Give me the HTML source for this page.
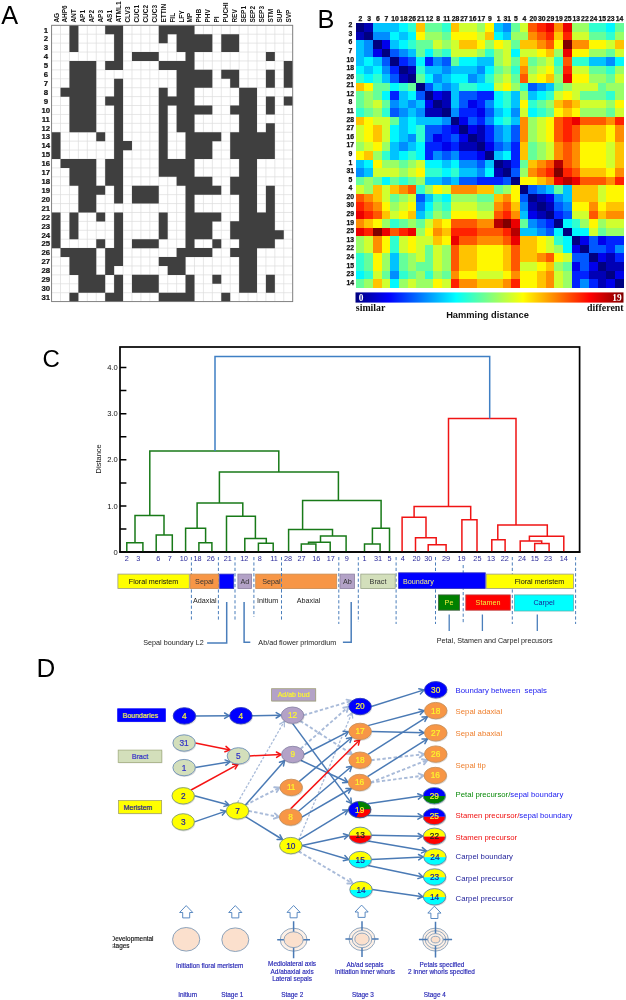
<!DOCTYPE html>
<html><head><meta charset="utf-8"><title>Figure</title>
<style>
html,body{margin:0;padding:0;background:#fff;}
body{width:626px;height:1000px;overflow:hidden;font-family:"Liberation Sans",sans-serif;}
svg{display:block;font-family:"Liberation Sans",sans-serif;filter:blur(0.35px);}
</style></head><body>
<svg width="626" height="1000" viewBox="0 0 626 1000">
<text x="1.2" y="24.3" font-size="25.3" fill="#000">A</text>
<rect x="51.6" y="25.3" width="241.1" height="276.3" fill="#fff"/>
<path d="M51.60 25.3V301.60M60.53 25.3V301.60M69.46 25.3V301.60M78.39 25.3V301.60M87.32 25.3V301.60M96.25 25.3V301.60M105.18 25.3V301.60M114.11 25.3V301.60M123.04 25.3V301.60M131.97 25.3V301.60M140.90 25.3V301.60M149.83 25.3V301.60M158.76 25.3V301.60M167.69 25.3V301.60M176.62 25.3V301.60M185.55 25.3V301.60M194.48 25.3V301.60M203.41 25.3V301.60M212.34 25.3V301.60M221.27 25.3V301.60M230.20 25.3V301.60M239.13 25.3V301.60M248.06 25.3V301.60M256.99 25.3V301.60M265.92 25.3V301.60M274.85 25.3V301.60M283.78 25.3V301.60M292.71 25.3V301.60M51.6 25.30H292.71M51.6 34.21H292.71M51.6 43.13H292.71M51.6 52.04H292.71M51.6 60.95H292.71M51.6 69.86H292.71M51.6 78.78H292.71M51.6 87.69H292.71M51.6 96.60H292.71M51.6 105.52H292.71M51.6 114.43H292.71M51.6 123.34H292.71M51.6 132.26H292.71M51.6 141.17H292.71M51.6 150.08H292.71M51.6 159.00H292.71M51.6 167.91H292.71M51.6 176.82H292.71M51.6 185.73H292.71M51.6 194.65H292.71M51.6 203.56H292.71M51.6 212.47H292.71M51.6 221.39H292.71M51.6 230.30H292.71M51.6 239.21H292.71M51.6 248.13H292.71M51.6 257.04H292.71M51.6 265.95H292.71M51.6 274.86H292.71M51.6 283.78H292.71M51.6 292.69H292.71M51.6 301.60H292.71" stroke="#dcdcdc" stroke-width="0.7" fill="none"/>
<path d="M69.46 25.25h8.93v9.01h-8.93zM105.18 25.25h17.86v9.01h-17.86zM158.76 25.25h35.72v9.01h-35.72zM69.46 34.16h8.93v9.01h-8.93zM114.11 34.16h8.93v9.01h-8.93zM158.76 34.16h8.93v9.01h-8.93zM176.62 34.16h35.72v9.01h-35.72zM221.27 34.16h17.86v9.01h-17.86zM69.46 43.08h8.93v9.01h-8.93zM114.11 43.08h8.93v9.01h-8.93zM176.62 43.08h35.72v9.01h-35.72zM221.27 43.08h17.86v9.01h-17.86zM114.11 51.99h8.93v9.01h-8.93zM131.97 51.99h26.79v9.01h-26.79zM185.55 51.99h8.93v9.01h-8.93zM265.92 51.99h8.93v9.01h-8.93zM69.46 60.90h26.79v9.01h-26.79zM105.18 60.90h17.86v9.01h-17.86zM158.76 60.90h35.72v9.01h-35.72zM283.78 60.90h8.93v9.01h-8.93zM69.46 69.81h26.79v9.01h-26.79zM176.62 69.81h35.72v9.01h-35.72zM221.27 69.81h17.86v9.01h-17.86zM265.92 69.81h8.93v9.01h-8.93zM283.78 69.81h8.93v9.01h-8.93zM69.46 78.73h26.79v9.01h-26.79zM114.11 78.73h8.93v9.01h-8.93zM176.62 78.73h35.72v9.01h-35.72zM230.20 78.73h8.93v9.01h-8.93zM265.92 78.73h8.93v9.01h-8.93zM283.78 78.73h8.93v9.01h-8.93zM60.53 87.64h35.72v9.01h-35.72zM114.11 87.64h8.93v9.01h-8.93zM158.76 87.64h8.93v9.01h-8.93zM176.62 87.64h17.86v9.01h-17.86zM239.13 87.64h17.86v9.01h-17.86zM69.46 96.55h26.79v9.01h-26.79zM105.18 96.55h17.86v9.01h-17.86zM158.76 96.55h35.72v9.01h-35.72zM239.13 96.55h17.86v9.01h-17.86zM265.92 96.55h8.93v9.01h-8.93zM283.78 96.55h8.93v9.01h-8.93zM69.46 105.47h26.79v9.01h-26.79zM114.11 105.47h8.93v9.01h-8.93zM158.76 105.47h8.93v9.01h-8.93zM176.62 105.47h35.72v9.01h-35.72zM230.20 105.47h26.79v9.01h-26.79zM265.92 105.47h8.93v9.01h-8.93zM69.46 114.38h26.79v9.01h-26.79zM114.11 114.38h8.93v9.01h-8.93zM158.76 114.38h8.93v9.01h-8.93zM176.62 114.38h17.86v9.01h-17.86zM239.13 114.38h17.86v9.01h-17.86zM69.46 123.29h26.79v9.01h-26.79zM114.11 123.29h8.93v9.01h-8.93zM158.76 123.29h8.93v9.01h-8.93zM176.62 123.29h17.86v9.01h-17.86zM239.13 123.29h17.86v9.01h-17.86zM265.92 123.29h8.93v9.01h-8.93zM51.60 132.21h8.93v9.01h-8.93zM96.25 132.21h8.93v9.01h-8.93zM114.11 132.21h8.93v9.01h-8.93zM158.76 132.21h8.93v9.01h-8.93zM185.55 132.21h35.72v9.01h-35.72zM230.20 132.21h44.65v9.01h-44.65zM51.60 141.12h8.93v9.01h-8.93zM114.11 141.12h17.86v9.01h-17.86zM158.76 141.12h8.93v9.01h-8.93zM185.55 141.12h26.79v9.01h-26.79zM230.20 141.12h44.65v9.01h-44.65zM51.60 150.03h8.93v9.01h-8.93zM114.11 150.03h8.93v9.01h-8.93zM158.76 150.03h8.93v9.01h-8.93zM185.55 150.03h26.79v9.01h-26.79zM230.20 150.03h44.65v9.01h-44.65zM60.53 158.94h35.72v9.01h-35.72zM105.18 158.94h17.86v9.01h-17.86zM158.76 158.94h35.72v9.01h-35.72zM239.13 158.94h17.86v9.01h-17.86zM69.46 167.86h26.79v9.01h-26.79zM105.18 167.86h17.86v9.01h-17.86zM158.76 167.86h35.72v9.01h-35.72zM239.13 167.86h17.86v9.01h-17.86zM69.46 176.77h26.79v9.01h-26.79zM105.18 176.77h17.86v9.01h-17.86zM176.62 176.77h35.72v9.01h-35.72zM230.20 176.77h26.79v9.01h-26.79zM78.39 185.68h26.79v9.01h-26.79zM114.11 185.68h8.93v9.01h-8.93zM131.97 185.68h26.79v9.01h-26.79zM185.55 185.68h35.72v9.01h-35.72zM230.20 185.68h26.79v9.01h-26.79zM265.92 185.68h8.93v9.01h-8.93zM78.39 194.60h17.86v9.01h-17.86zM114.11 194.60h8.93v9.01h-8.93zM131.97 194.60h26.79v9.01h-26.79zM185.55 194.60h8.93v9.01h-8.93zM239.13 194.60h17.86v9.01h-17.86zM265.92 194.60h8.93v9.01h-8.93zM78.39 203.51h17.86v9.01h-17.86zM185.55 203.51h8.93v9.01h-8.93zM239.13 203.51h17.86v9.01h-17.86zM265.92 203.51h8.93v9.01h-8.93zM51.60 212.42h8.93v9.01h-8.93zM69.46 212.42h8.93v9.01h-8.93zM96.25 212.42h8.93v9.01h-8.93zM114.11 212.42h8.93v9.01h-8.93zM158.76 212.42h8.93v9.01h-8.93zM185.55 212.42h35.72v9.01h-35.72zM239.13 212.42h35.72v9.01h-35.72zM51.60 221.34h8.93v9.01h-8.93zM69.46 221.34h8.93v9.01h-8.93zM114.11 221.34h8.93v9.01h-8.93zM158.76 221.34h8.93v9.01h-8.93zM185.55 221.34h26.79v9.01h-26.79zM230.20 221.34h44.65v9.01h-44.65zM51.60 230.25h8.93v9.01h-8.93zM69.46 230.25h8.93v9.01h-8.93zM114.11 230.25h8.93v9.01h-8.93zM158.76 230.25h8.93v9.01h-8.93zM185.55 230.25h26.79v9.01h-26.79zM230.20 230.25h53.58v9.01h-53.58zM51.60 239.16h8.93v9.01h-8.93zM96.25 239.16h8.93v9.01h-8.93zM114.11 239.16h8.93v9.01h-8.93zM131.97 239.16h26.79v9.01h-26.79zM185.55 239.16h8.93v9.01h-8.93zM212.34 239.16h8.93v9.01h-8.93zM239.13 239.16h35.72v9.01h-35.72zM60.53 248.08h35.72v9.01h-35.72zM105.18 248.08h17.86v9.01h-17.86zM176.62 248.08h35.72v9.01h-35.72zM230.20 248.08h26.79v9.01h-26.79zM69.46 256.99h26.79v9.01h-26.79zM105.18 256.99h17.86v9.01h-17.86zM158.76 256.99h26.79v9.01h-26.79zM239.13 256.99h17.86v9.01h-17.86zM69.46 265.90h26.79v9.01h-26.79zM105.18 265.90h8.93v9.01h-8.93zM167.69 265.90h17.86v9.01h-17.86zM239.13 265.90h17.86v9.01h-17.86zM78.39 274.81h26.79v9.01h-26.79zM114.11 274.81h8.93v9.01h-8.93zM131.97 274.81h26.79v9.01h-26.79zM185.55 274.81h8.93v9.01h-8.93zM212.34 274.81h8.93v9.01h-8.93zM239.13 274.81h17.86v9.01h-17.86zM265.92 274.81h8.93v9.01h-8.93zM78.39 283.73h26.79v9.01h-26.79zM114.11 283.73h8.93v9.01h-8.93zM131.97 283.73h26.79v9.01h-26.79zM185.55 283.73h8.93v9.01h-8.93zM239.13 283.73h17.86v9.01h-17.86zM265.92 283.73h8.93v9.01h-8.93zM69.46 292.64h8.93v9.01h-8.93zM105.18 292.64h17.86v9.01h-17.86zM158.76 292.64h35.72v9.01h-35.72zM221.27 292.64h8.93v9.01h-8.93z" fill="#3f3f3f"/>
<rect x="51.6" y="25.3" width="241.1" height="276.3" fill="none" stroke="#7a7a7a" stroke-width="0.9"/>
<text x="45.8" y="32.5" font-size="7.8" font-weight="bold" text-anchor="middle" fill="#111" stroke="#111" stroke-width="0.2">1</text>
<text x="45.8" y="41.4" font-size="7.8" font-weight="bold" text-anchor="middle" fill="#111" stroke="#111" stroke-width="0.2">2</text>
<text x="45.8" y="50.3" font-size="7.8" font-weight="bold" text-anchor="middle" fill="#111" stroke="#111" stroke-width="0.2">3</text>
<text x="45.8" y="59.2" font-size="7.8" font-weight="bold" text-anchor="middle" fill="#111" stroke="#111" stroke-width="0.2">4</text>
<text x="45.8" y="68.1" font-size="7.8" font-weight="bold" text-anchor="middle" fill="#111" stroke="#111" stroke-width="0.2">5</text>
<text x="45.8" y="77.0" font-size="7.8" font-weight="bold" text-anchor="middle" fill="#111" stroke="#111" stroke-width="0.2">6</text>
<text x="45.8" y="85.9" font-size="7.8" font-weight="bold" text-anchor="middle" fill="#111" stroke="#111" stroke-width="0.2">7</text>
<text x="45.8" y="94.8" font-size="7.8" font-weight="bold" text-anchor="middle" fill="#111" stroke="#111" stroke-width="0.2">8</text>
<text x="45.8" y="103.8" font-size="7.8" font-weight="bold" text-anchor="middle" fill="#111" stroke="#111" stroke-width="0.2">9</text>
<text x="45.8" y="112.7" font-size="7.8" font-weight="bold" text-anchor="middle" fill="#111" stroke="#111" stroke-width="0.2">10</text>
<text x="45.8" y="121.6" font-size="7.8" font-weight="bold" text-anchor="middle" fill="#111" stroke="#111" stroke-width="0.2">11</text>
<text x="45.8" y="130.5" font-size="7.8" font-weight="bold" text-anchor="middle" fill="#111" stroke="#111" stroke-width="0.2">12</text>
<text x="45.8" y="139.4" font-size="7.8" font-weight="bold" text-anchor="middle" fill="#111" stroke="#111" stroke-width="0.2">13</text>
<text x="45.8" y="148.3" font-size="7.8" font-weight="bold" text-anchor="middle" fill="#111" stroke="#111" stroke-width="0.2">14</text>
<text x="45.8" y="157.2" font-size="7.8" font-weight="bold" text-anchor="middle" fill="#111" stroke="#111" stroke-width="0.2">15</text>
<text x="45.8" y="166.2" font-size="7.8" font-weight="bold" text-anchor="middle" fill="#111" stroke="#111" stroke-width="0.2">16</text>
<text x="45.8" y="175.1" font-size="7.8" font-weight="bold" text-anchor="middle" fill="#111" stroke="#111" stroke-width="0.2">17</text>
<text x="45.8" y="184.0" font-size="7.8" font-weight="bold" text-anchor="middle" fill="#111" stroke="#111" stroke-width="0.2">18</text>
<text x="45.8" y="192.9" font-size="7.8" font-weight="bold" text-anchor="middle" fill="#111" stroke="#111" stroke-width="0.2">19</text>
<text x="45.8" y="201.8" font-size="7.8" font-weight="bold" text-anchor="middle" fill="#111" stroke="#111" stroke-width="0.2">20</text>
<text x="45.8" y="210.7" font-size="7.8" font-weight="bold" text-anchor="middle" fill="#111" stroke="#111" stroke-width="0.2">21</text>
<text x="45.8" y="219.6" font-size="7.8" font-weight="bold" text-anchor="middle" fill="#111" stroke="#111" stroke-width="0.2">22</text>
<text x="45.8" y="228.5" font-size="7.8" font-weight="bold" text-anchor="middle" fill="#111" stroke="#111" stroke-width="0.2">23</text>
<text x="45.8" y="237.5" font-size="7.8" font-weight="bold" text-anchor="middle" fill="#111" stroke="#111" stroke-width="0.2">24</text>
<text x="45.8" y="246.4" font-size="7.8" font-weight="bold" text-anchor="middle" fill="#111" stroke="#111" stroke-width="0.2">25</text>
<text x="45.8" y="255.3" font-size="7.8" font-weight="bold" text-anchor="middle" fill="#111" stroke="#111" stroke-width="0.2">26</text>
<text x="45.8" y="264.2" font-size="7.8" font-weight="bold" text-anchor="middle" fill="#111" stroke="#111" stroke-width="0.2">27</text>
<text x="45.8" y="273.1" font-size="7.8" font-weight="bold" text-anchor="middle" fill="#111" stroke="#111" stroke-width="0.2">28</text>
<text x="45.8" y="282.0" font-size="7.8" font-weight="bold" text-anchor="middle" fill="#111" stroke="#111" stroke-width="0.2">29</text>
<text x="45.8" y="290.9" font-size="7.8" font-weight="bold" text-anchor="middle" fill="#111" stroke="#111" stroke-width="0.2">30</text>
<text x="45.8" y="299.8" font-size="7.8" font-weight="bold" text-anchor="middle" fill="#111" stroke="#111" stroke-width="0.2">31</text>
<text transform="translate(58.5 22.6) rotate(-90)" font-size="6.5" font-weight="bold" fill="#111">AG</text>
<text transform="translate(67.4 22.6) rotate(-90)" font-size="6.5" font-weight="bold" fill="#111">AHP6</text>
<text transform="translate(76.3 22.6) rotate(-90)" font-size="6.5" font-weight="bold" fill="#111">ANT</text>
<text transform="translate(85.3 22.6) rotate(-90)" font-size="6.5" font-weight="bold" fill="#111">AP1</text>
<text transform="translate(94.2 22.6) rotate(-90)" font-size="6.5" font-weight="bold" fill="#111">AP2</text>
<text transform="translate(103.1 22.6) rotate(-90)" font-size="6.5" font-weight="bold" fill="#111">AP3</text>
<text transform="translate(112.0 22.6) rotate(-90)" font-size="6.5" font-weight="bold" fill="#111">AS1</text>
<text transform="translate(121.0 22.6) rotate(-90)" font-size="6.5" font-weight="bold" fill="#111">ATML1</text>
<text transform="translate(129.9 22.6) rotate(-90)" font-size="6.5" font-weight="bold" fill="#111">CLV3</text>
<text transform="translate(138.8 22.6) rotate(-90)" font-size="6.5" font-weight="bold" fill="#111">CUC1</text>
<text transform="translate(147.8 22.6) rotate(-90)" font-size="6.5" font-weight="bold" fill="#111">CUC2</text>
<text transform="translate(156.7 22.6) rotate(-90)" font-size="6.5" font-weight="bold" fill="#111">CUC3</text>
<text transform="translate(165.6 22.6) rotate(-90)" font-size="6.5" font-weight="bold" fill="#111">ETTIN</text>
<text transform="translate(174.6 22.6) rotate(-90)" font-size="6.5" font-weight="bold" fill="#111">FIL</text>
<text transform="translate(183.5 22.6) rotate(-90)" font-size="6.5" font-weight="bold" fill="#111">LFY</text>
<text transform="translate(192.4 22.6) rotate(-90)" font-size="6.5" font-weight="bold" fill="#111">MP</text>
<text transform="translate(201.3 22.6) rotate(-90)" font-size="6.5" font-weight="bold" fill="#111">PHB</text>
<text transform="translate(210.3 22.6) rotate(-90)" font-size="6.5" font-weight="bold" fill="#111">PHV</text>
<text transform="translate(219.2 22.6) rotate(-90)" font-size="6.5" font-weight="bold" fill="#111">PI</text>
<text transform="translate(228.1 22.6) rotate(-90)" font-size="6.5" font-weight="bold" fill="#111">PUCHI</text>
<text transform="translate(237.1 22.6) rotate(-90)" font-size="6.5" font-weight="bold" fill="#111">REV</text>
<text transform="translate(246.0 22.6) rotate(-90)" font-size="6.5" font-weight="bold" fill="#111">SEP1</text>
<text transform="translate(254.9 22.6) rotate(-90)" font-size="6.5" font-weight="bold" fill="#111">SEP2</text>
<text transform="translate(263.9 22.6) rotate(-90)" font-size="6.5" font-weight="bold" fill="#111">SEP3</text>
<text transform="translate(272.8 22.6) rotate(-90)" font-size="6.5" font-weight="bold" fill="#111">STM</text>
<text transform="translate(281.7 22.6) rotate(-90)" font-size="6.5" font-weight="bold" fill="#111">SUP</text>
<text transform="translate(290.6 22.6) rotate(-90)" font-size="6.5" font-weight="bold" fill="#111">SVP</text>
<text x="317.6" y="27.5" font-size="25.3" fill="#000">B</text>
<g shape-rendering="crispEdges">
<rect x="355.80" y="23.00" width="8.93" height="8.84" fill="#000080"/>
<rect x="364.43" y="23.00" width="8.93" height="8.84" fill="#0000b5"/>
<rect x="373.06" y="23.00" width="8.93" height="8.84" fill="#00c3ff"/>
<rect x="381.70" y="23.00" width="8.93" height="8.84" fill="#00c3ff"/>
<rect x="390.33" y="23.00" width="8.93" height="8.84" fill="#00c3ff"/>
<rect x="398.96" y="23.00" width="8.93" height="8.84" fill="#00f8ff"/>
<rect x="407.59" y="23.00" width="8.93" height="8.84" fill="#2fffd0"/>
<rect x="416.22" y="23.00" width="8.93" height="8.84" fill="#ffc300"/>
<rect x="424.86" y="23.00" width="8.93" height="8.84" fill="#65ff9a"/>
<rect x="433.49" y="23.00" width="8.93" height="8.84" fill="#65ff9a"/>
<rect x="442.12" y="23.00" width="8.93" height="8.84" fill="#2fffd0"/>
<rect x="450.75" y="23.00" width="8.93" height="8.84" fill="#ffc300"/>
<rect x="459.38" y="23.00" width="8.93" height="8.84" fill="#d0ff2f"/>
<rect x="468.02" y="23.00" width="8.93" height="8.84" fill="#d0ff2f"/>
<rect x="476.65" y="23.00" width="8.93" height="8.84" fill="#9aff65"/>
<rect x="485.28" y="23.00" width="8.93" height="8.84" fill="#fff800"/>
<rect x="493.91" y="23.00" width="8.93" height="8.84" fill="#00c3ff"/>
<rect x="502.54" y="23.00" width="8.93" height="8.84" fill="#008dff"/>
<rect x="511.18" y="23.00" width="8.93" height="8.84" fill="#65ff9a"/>
<rect x="519.81" y="23.00" width="8.93" height="8.84" fill="#d0ff2f"/>
<rect x="528.44" y="23.00" width="8.93" height="8.84" fill="#ff5700"/>
<rect x="537.07" y="23.00" width="8.93" height="8.84" fill="#ff2200"/>
<rect x="545.70" y="23.00" width="8.93" height="8.84" fill="#eb0000"/>
<rect x="554.34" y="23.00" width="8.93" height="8.84" fill="#ff8d00"/>
<rect x="562.97" y="23.00" width="8.93" height="8.84" fill="#eb0000"/>
<rect x="571.60" y="23.00" width="8.93" height="8.84" fill="#9aff65"/>
<rect x="580.23" y="23.00" width="8.93" height="8.84" fill="#9aff65"/>
<rect x="588.86" y="23.00" width="8.93" height="8.84" fill="#2fffd0"/>
<rect x="597.50" y="23.00" width="8.93" height="8.84" fill="#2fffd0"/>
<rect x="606.13" y="23.00" width="8.93" height="8.84" fill="#00f8ff"/>
<rect x="614.76" y="23.00" width="8.93" height="8.84" fill="#65ff9a"/>
<rect x="355.80" y="31.54" width="8.93" height="8.84" fill="#0000b5"/>
<rect x="364.43" y="31.54" width="8.93" height="8.84" fill="#000080"/>
<rect x="373.06" y="31.54" width="8.93" height="8.84" fill="#008dff"/>
<rect x="381.70" y="31.54" width="8.93" height="8.84" fill="#008dff"/>
<rect x="390.33" y="31.54" width="8.93" height="8.84" fill="#00f8ff"/>
<rect x="398.96" y="31.54" width="8.93" height="8.84" fill="#00c3ff"/>
<rect x="407.59" y="31.54" width="8.93" height="8.84" fill="#00f8ff"/>
<rect x="416.22" y="31.54" width="8.93" height="8.84" fill="#fff800"/>
<rect x="424.86" y="31.54" width="8.93" height="8.84" fill="#9aff65"/>
<rect x="433.49" y="31.54" width="8.93" height="8.84" fill="#9aff65"/>
<rect x="442.12" y="31.54" width="8.93" height="8.84" fill="#65ff9a"/>
<rect x="450.75" y="31.54" width="8.93" height="8.84" fill="#fff800"/>
<rect x="459.38" y="31.54" width="8.93" height="8.84" fill="#fff800"/>
<rect x="468.02" y="31.54" width="8.93" height="8.84" fill="#fff800"/>
<rect x="476.65" y="31.54" width="8.93" height="8.84" fill="#d0ff2f"/>
<rect x="485.28" y="31.54" width="8.93" height="8.84" fill="#ffc300"/>
<rect x="493.91" y="31.54" width="8.93" height="8.84" fill="#00f8ff"/>
<rect x="502.54" y="31.54" width="8.93" height="8.84" fill="#00c3ff"/>
<rect x="511.18" y="31.54" width="8.93" height="8.84" fill="#9aff65"/>
<rect x="519.81" y="31.54" width="8.93" height="8.84" fill="#9aff65"/>
<rect x="528.44" y="31.54" width="8.93" height="8.84" fill="#ff8d00"/>
<rect x="537.07" y="31.54" width="8.93" height="8.84" fill="#ff5700"/>
<rect x="545.70" y="31.54" width="8.93" height="8.84" fill="#ff2200"/>
<rect x="554.34" y="31.54" width="8.93" height="8.84" fill="#ffc300"/>
<rect x="562.97" y="31.54" width="8.93" height="8.84" fill="#ff2200"/>
<rect x="571.60" y="31.54" width="8.93" height="8.84" fill="#d0ff2f"/>
<rect x="580.23" y="31.54" width="8.93" height="8.84" fill="#d0ff2f"/>
<rect x="588.86" y="31.54" width="8.93" height="8.84" fill="#65ff9a"/>
<rect x="597.50" y="31.54" width="8.93" height="8.84" fill="#65ff9a"/>
<rect x="606.13" y="31.54" width="8.93" height="8.84" fill="#2fffd0"/>
<rect x="614.76" y="31.54" width="8.93" height="8.84" fill="#9aff65"/>
<rect x="355.80" y="40.07" width="8.93" height="8.84" fill="#00c3ff"/>
<rect x="364.43" y="40.07" width="8.93" height="8.84" fill="#008dff"/>
<rect x="373.06" y="40.07" width="8.93" height="8.84" fill="#000080"/>
<rect x="381.70" y="40.07" width="8.93" height="8.84" fill="#0000eb"/>
<rect x="390.33" y="40.07" width="8.93" height="8.84" fill="#00c3ff"/>
<rect x="398.96" y="40.07" width="8.93" height="8.84" fill="#00f8ff"/>
<rect x="407.59" y="40.07" width="8.93" height="8.84" fill="#2fffd0"/>
<rect x="416.22" y="40.07" width="8.93" height="8.84" fill="#65ff9a"/>
<rect x="424.86" y="40.07" width="8.93" height="8.84" fill="#65ff9a"/>
<rect x="433.49" y="40.07" width="8.93" height="8.84" fill="#d0ff2f"/>
<rect x="442.12" y="40.07" width="8.93" height="8.84" fill="#9aff65"/>
<rect x="450.75" y="40.07" width="8.93" height="8.84" fill="#d0ff2f"/>
<rect x="459.38" y="40.07" width="8.93" height="8.84" fill="#ffc300"/>
<rect x="468.02" y="40.07" width="8.93" height="8.84" fill="#ffc300"/>
<rect x="476.65" y="40.07" width="8.93" height="8.84" fill="#fff800"/>
<rect x="485.28" y="40.07" width="8.93" height="8.84" fill="#9aff65"/>
<rect x="493.91" y="40.07" width="8.93" height="8.84" fill="#fff800"/>
<rect x="502.54" y="40.07" width="8.93" height="8.84" fill="#d0ff2f"/>
<rect x="511.18" y="40.07" width="8.93" height="8.84" fill="#65ff9a"/>
<rect x="519.81" y="40.07" width="8.93" height="8.84" fill="#ffc300"/>
<rect x="528.44" y="40.07" width="8.93" height="8.84" fill="#ffc300"/>
<rect x="537.07" y="40.07" width="8.93" height="8.84" fill="#ff8d00"/>
<rect x="545.70" y="40.07" width="8.93" height="8.84" fill="#ff5700"/>
<rect x="554.34" y="40.07" width="8.93" height="8.84" fill="#fff800"/>
<rect x="562.97" y="40.07" width="8.93" height="8.84" fill="#800000"/>
<rect x="571.60" y="40.07" width="8.93" height="8.84" fill="#ff8d00"/>
<rect x="580.23" y="40.07" width="8.93" height="8.84" fill="#ff8d00"/>
<rect x="588.86" y="40.07" width="8.93" height="8.84" fill="#fff800"/>
<rect x="597.50" y="40.07" width="8.93" height="8.84" fill="#fff800"/>
<rect x="606.13" y="40.07" width="8.93" height="8.84" fill="#d0ff2f"/>
<rect x="614.76" y="40.07" width="8.93" height="8.84" fill="#ffc300"/>
<rect x="355.80" y="48.61" width="8.93" height="8.84" fill="#00c3ff"/>
<rect x="364.43" y="48.61" width="8.93" height="8.84" fill="#008dff"/>
<rect x="373.06" y="48.61" width="8.93" height="8.84" fill="#0000eb"/>
<rect x="381.70" y="48.61" width="8.93" height="8.84" fill="#000080"/>
<rect x="390.33" y="48.61" width="8.93" height="8.84" fill="#0057ff"/>
<rect x="398.96" y="48.61" width="8.93" height="8.84" fill="#008dff"/>
<rect x="407.59" y="48.61" width="8.93" height="8.84" fill="#00c3ff"/>
<rect x="416.22" y="48.61" width="8.93" height="8.84" fill="#65ff9a"/>
<rect x="424.86" y="48.61" width="8.93" height="8.84" fill="#00f8ff"/>
<rect x="433.49" y="48.61" width="8.93" height="8.84" fill="#65ff9a"/>
<rect x="442.12" y="48.61" width="8.93" height="8.84" fill="#2fffd0"/>
<rect x="450.75" y="48.61" width="8.93" height="8.84" fill="#d0ff2f"/>
<rect x="459.38" y="48.61" width="8.93" height="8.84" fill="#d0ff2f"/>
<rect x="468.02" y="48.61" width="8.93" height="8.84" fill="#d0ff2f"/>
<rect x="476.65" y="48.61" width="8.93" height="8.84" fill="#9aff65"/>
<rect x="485.28" y="48.61" width="8.93" height="8.84" fill="#2fffd0"/>
<rect x="493.91" y="48.61" width="8.93" height="8.84" fill="#9aff65"/>
<rect x="502.54" y="48.61" width="8.93" height="8.84" fill="#d0ff2f"/>
<rect x="511.18" y="48.61" width="8.93" height="8.84" fill="#00f8ff"/>
<rect x="519.81" y="48.61" width="8.93" height="8.84" fill="#d0ff2f"/>
<rect x="528.44" y="48.61" width="8.93" height="8.84" fill="#d0ff2f"/>
<rect x="537.07" y="48.61" width="8.93" height="8.84" fill="#fff800"/>
<rect x="545.70" y="48.61" width="8.93" height="8.84" fill="#ffc300"/>
<rect x="554.34" y="48.61" width="8.93" height="8.84" fill="#9aff65"/>
<rect x="562.97" y="48.61" width="8.93" height="8.84" fill="#eb0000"/>
<rect x="571.60" y="48.61" width="8.93" height="8.84" fill="#fff800"/>
<rect x="580.23" y="48.61" width="8.93" height="8.84" fill="#fff800"/>
<rect x="588.86" y="48.61" width="8.93" height="8.84" fill="#9aff65"/>
<rect x="597.50" y="48.61" width="8.93" height="8.84" fill="#9aff65"/>
<rect x="606.13" y="48.61" width="8.93" height="8.84" fill="#65ff9a"/>
<rect x="614.76" y="48.61" width="8.93" height="8.84" fill="#d0ff2f"/>
<rect x="355.80" y="57.14" width="8.93" height="8.84" fill="#00c3ff"/>
<rect x="364.43" y="57.14" width="8.93" height="8.84" fill="#00f8ff"/>
<rect x="373.06" y="57.14" width="8.93" height="8.84" fill="#00c3ff"/>
<rect x="381.70" y="57.14" width="8.93" height="8.84" fill="#0057ff"/>
<rect x="390.33" y="57.14" width="8.93" height="8.84" fill="#000080"/>
<rect x="398.96" y="57.14" width="8.93" height="8.84" fill="#0022ff"/>
<rect x="407.59" y="57.14" width="8.93" height="8.84" fill="#0057ff"/>
<rect x="416.22" y="57.14" width="8.93" height="8.84" fill="#00f8ff"/>
<rect x="424.86" y="57.14" width="8.93" height="8.84" fill="#0022ff"/>
<rect x="433.49" y="57.14" width="8.93" height="8.84" fill="#008dff"/>
<rect x="442.12" y="57.14" width="8.93" height="8.84" fill="#0057ff"/>
<rect x="450.75" y="57.14" width="8.93" height="8.84" fill="#65ff9a"/>
<rect x="459.38" y="57.14" width="8.93" height="8.84" fill="#00f8ff"/>
<rect x="468.02" y="57.14" width="8.93" height="8.84" fill="#00f8ff"/>
<rect x="476.65" y="57.14" width="8.93" height="8.84" fill="#00c3ff"/>
<rect x="485.28" y="57.14" width="8.93" height="8.84" fill="#00c3ff"/>
<rect x="493.91" y="57.14" width="8.93" height="8.84" fill="#9aff65"/>
<rect x="502.54" y="57.14" width="8.93" height="8.84" fill="#d0ff2f"/>
<rect x="511.18" y="57.14" width="8.93" height="8.84" fill="#65ff9a"/>
<rect x="519.81" y="57.14" width="8.93" height="8.84" fill="#ffc300"/>
<rect x="528.44" y="57.14" width="8.93" height="8.84" fill="#65ff9a"/>
<rect x="537.07" y="57.14" width="8.93" height="8.84" fill="#9aff65"/>
<rect x="545.70" y="57.14" width="8.93" height="8.84" fill="#d0ff2f"/>
<rect x="554.34" y="57.14" width="8.93" height="8.84" fill="#2fffd0"/>
<rect x="562.97" y="57.14" width="8.93" height="8.84" fill="#ff5700"/>
<rect x="571.60" y="57.14" width="8.93" height="8.84" fill="#2fffd0"/>
<rect x="580.23" y="57.14" width="8.93" height="8.84" fill="#2fffd0"/>
<rect x="588.86" y="57.14" width="8.93" height="8.84" fill="#00c3ff"/>
<rect x="597.50" y="57.14" width="8.93" height="8.84" fill="#00c3ff"/>
<rect x="606.13" y="57.14" width="8.93" height="8.84" fill="#008dff"/>
<rect x="614.76" y="57.14" width="8.93" height="8.84" fill="#00f8ff"/>
<rect x="355.80" y="65.67" width="8.93" height="8.84" fill="#00f8ff"/>
<rect x="364.43" y="65.67" width="8.93" height="8.84" fill="#00c3ff"/>
<rect x="373.06" y="65.67" width="8.93" height="8.84" fill="#00f8ff"/>
<rect x="381.70" y="65.67" width="8.93" height="8.84" fill="#008dff"/>
<rect x="390.33" y="65.67" width="8.93" height="8.84" fill="#0022ff"/>
<rect x="398.96" y="65.67" width="8.93" height="8.84" fill="#000080"/>
<rect x="407.59" y="65.67" width="8.93" height="8.84" fill="#0000b5"/>
<rect x="416.22" y="65.67" width="8.93" height="8.84" fill="#2fffd0"/>
<rect x="424.86" y="65.67" width="8.93" height="8.84" fill="#00c3ff"/>
<rect x="433.49" y="65.67" width="8.93" height="8.84" fill="#00c3ff"/>
<rect x="442.12" y="65.67" width="8.93" height="8.84" fill="#008dff"/>
<rect x="450.75" y="65.67" width="8.93" height="8.84" fill="#00c3ff"/>
<rect x="459.38" y="65.67" width="8.93" height="8.84" fill="#00c3ff"/>
<rect x="468.02" y="65.67" width="8.93" height="8.84" fill="#00c3ff"/>
<rect x="476.65" y="65.67" width="8.93" height="8.84" fill="#008dff"/>
<rect x="485.28" y="65.67" width="8.93" height="8.84" fill="#00f8ff"/>
<rect x="493.91" y="65.67" width="8.93" height="8.84" fill="#65ff9a"/>
<rect x="502.54" y="65.67" width="8.93" height="8.84" fill="#9aff65"/>
<rect x="511.18" y="65.67" width="8.93" height="8.84" fill="#2fffd0"/>
<rect x="519.81" y="65.67" width="8.93" height="8.84" fill="#ff8d00"/>
<rect x="528.44" y="65.67" width="8.93" height="8.84" fill="#9aff65"/>
<rect x="537.07" y="65.67" width="8.93" height="8.84" fill="#d0ff2f"/>
<rect x="545.70" y="65.67" width="8.93" height="8.84" fill="#fff800"/>
<rect x="554.34" y="65.67" width="8.93" height="8.84" fill="#65ff9a"/>
<rect x="562.97" y="65.67" width="8.93" height="8.84" fill="#ff2200"/>
<rect x="571.60" y="65.67" width="8.93" height="8.84" fill="#d0ff2f"/>
<rect x="580.23" y="65.67" width="8.93" height="8.84" fill="#d0ff2f"/>
<rect x="588.86" y="65.67" width="8.93" height="8.84" fill="#65ff9a"/>
<rect x="597.50" y="65.67" width="8.93" height="8.84" fill="#65ff9a"/>
<rect x="606.13" y="65.67" width="8.93" height="8.84" fill="#2fffd0"/>
<rect x="614.76" y="65.67" width="8.93" height="8.84" fill="#9aff65"/>
<rect x="355.80" y="74.21" width="8.93" height="8.84" fill="#2fffd0"/>
<rect x="364.43" y="74.21" width="8.93" height="8.84" fill="#00f8ff"/>
<rect x="373.06" y="74.21" width="8.93" height="8.84" fill="#2fffd0"/>
<rect x="381.70" y="74.21" width="8.93" height="8.84" fill="#00c3ff"/>
<rect x="390.33" y="74.21" width="8.93" height="8.84" fill="#0057ff"/>
<rect x="398.96" y="74.21" width="8.93" height="8.84" fill="#0000b5"/>
<rect x="407.59" y="74.21" width="8.93" height="8.84" fill="#000080"/>
<rect x="416.22" y="74.21" width="8.93" height="8.84" fill="#65ff9a"/>
<rect x="424.86" y="74.21" width="8.93" height="8.84" fill="#00f8ff"/>
<rect x="433.49" y="74.21" width="8.93" height="8.84" fill="#008dff"/>
<rect x="442.12" y="74.21" width="8.93" height="8.84" fill="#00c3ff"/>
<rect x="450.75" y="74.21" width="8.93" height="8.84" fill="#00f8ff"/>
<rect x="459.38" y="74.21" width="8.93" height="8.84" fill="#00f8ff"/>
<rect x="468.02" y="74.21" width="8.93" height="8.84" fill="#008dff"/>
<rect x="476.65" y="74.21" width="8.93" height="8.84" fill="#00c3ff"/>
<rect x="485.28" y="74.21" width="8.93" height="8.84" fill="#2fffd0"/>
<rect x="493.91" y="74.21" width="8.93" height="8.84" fill="#9aff65"/>
<rect x="502.54" y="74.21" width="8.93" height="8.84" fill="#d0ff2f"/>
<rect x="511.18" y="74.21" width="8.93" height="8.84" fill="#65ff9a"/>
<rect x="519.81" y="74.21" width="8.93" height="8.84" fill="#ff5700"/>
<rect x="528.44" y="74.21" width="8.93" height="8.84" fill="#d0ff2f"/>
<rect x="537.07" y="74.21" width="8.93" height="8.84" fill="#fff800"/>
<rect x="545.70" y="74.21" width="8.93" height="8.84" fill="#ffc300"/>
<rect x="554.34" y="74.21" width="8.93" height="8.84" fill="#9aff65"/>
<rect x="562.97" y="74.21" width="8.93" height="8.84" fill="#eb0000"/>
<rect x="571.60" y="74.21" width="8.93" height="8.84" fill="#fff800"/>
<rect x="580.23" y="74.21" width="8.93" height="8.84" fill="#fff800"/>
<rect x="588.86" y="74.21" width="8.93" height="8.84" fill="#9aff65"/>
<rect x="597.50" y="74.21" width="8.93" height="8.84" fill="#9aff65"/>
<rect x="606.13" y="74.21" width="8.93" height="8.84" fill="#65ff9a"/>
<rect x="614.76" y="74.21" width="8.93" height="8.84" fill="#d0ff2f"/>
<rect x="355.80" y="82.75" width="8.93" height="8.84" fill="#ffc300"/>
<rect x="364.43" y="82.75" width="8.93" height="8.84" fill="#fff800"/>
<rect x="373.06" y="82.75" width="8.93" height="8.84" fill="#65ff9a"/>
<rect x="381.70" y="82.75" width="8.93" height="8.84" fill="#65ff9a"/>
<rect x="390.33" y="82.75" width="8.93" height="8.84" fill="#00f8ff"/>
<rect x="398.96" y="82.75" width="8.93" height="8.84" fill="#2fffd0"/>
<rect x="407.59" y="82.75" width="8.93" height="8.84" fill="#65ff9a"/>
<rect x="416.22" y="82.75" width="8.93" height="8.84" fill="#000080"/>
<rect x="424.86" y="82.75" width="8.93" height="8.84" fill="#0057ff"/>
<rect x="433.49" y="82.75" width="8.93" height="8.84" fill="#00c3ff"/>
<rect x="442.12" y="82.75" width="8.93" height="8.84" fill="#008dff"/>
<rect x="450.75" y="82.75" width="8.93" height="8.84" fill="#00c3ff"/>
<rect x="459.38" y="82.75" width="8.93" height="8.84" fill="#2fffd0"/>
<rect x="468.02" y="82.75" width="8.93" height="8.84" fill="#2fffd0"/>
<rect x="476.65" y="82.75" width="8.93" height="8.84" fill="#00f8ff"/>
<rect x="485.28" y="82.75" width="8.93" height="8.84" fill="#00f8ff"/>
<rect x="493.91" y="82.75" width="8.93" height="8.84" fill="#d0ff2f"/>
<rect x="502.54" y="82.75" width="8.93" height="8.84" fill="#fff800"/>
<rect x="511.18" y="82.75" width="8.93" height="8.84" fill="#9aff65"/>
<rect x="519.81" y="82.75" width="8.93" height="8.84" fill="#2fffd0"/>
<rect x="528.44" y="82.75" width="8.93" height="8.84" fill="#0057ff"/>
<rect x="537.07" y="82.75" width="8.93" height="8.84" fill="#008dff"/>
<rect x="545.70" y="82.75" width="8.93" height="8.84" fill="#00c3ff"/>
<rect x="554.34" y="82.75" width="8.93" height="8.84" fill="#65ff9a"/>
<rect x="562.97" y="82.75" width="8.93" height="8.84" fill="#9aff65"/>
<rect x="571.60" y="82.75" width="8.93" height="8.84" fill="#d0ff2f"/>
<rect x="580.23" y="82.75" width="8.93" height="8.84" fill="#d0ff2f"/>
<rect x="588.86" y="82.75" width="8.93" height="8.84" fill="#d0ff2f"/>
<rect x="597.50" y="82.75" width="8.93" height="8.84" fill="#65ff9a"/>
<rect x="606.13" y="82.75" width="8.93" height="8.84" fill="#9aff65"/>
<rect x="614.76" y="82.75" width="8.93" height="8.84" fill="#9aff65"/>
<rect x="355.80" y="91.28" width="8.93" height="8.84" fill="#65ff9a"/>
<rect x="364.43" y="91.28" width="8.93" height="8.84" fill="#9aff65"/>
<rect x="373.06" y="91.28" width="8.93" height="8.84" fill="#65ff9a"/>
<rect x="381.70" y="91.28" width="8.93" height="8.84" fill="#00f8ff"/>
<rect x="390.33" y="91.28" width="8.93" height="8.84" fill="#0022ff"/>
<rect x="398.96" y="91.28" width="8.93" height="8.84" fill="#00c3ff"/>
<rect x="407.59" y="91.28" width="8.93" height="8.84" fill="#00f8ff"/>
<rect x="416.22" y="91.28" width="8.93" height="8.84" fill="#0057ff"/>
<rect x="424.86" y="91.28" width="8.93" height="8.84" fill="#000080"/>
<rect x="433.49" y="91.28" width="8.93" height="8.84" fill="#0000eb"/>
<rect x="442.12" y="91.28" width="8.93" height="8.84" fill="#0000b5"/>
<rect x="450.75" y="91.28" width="8.93" height="8.84" fill="#00c3ff"/>
<rect x="459.38" y="91.28" width="8.93" height="8.84" fill="#0057ff"/>
<rect x="468.02" y="91.28" width="8.93" height="8.84" fill="#0057ff"/>
<rect x="476.65" y="91.28" width="8.93" height="8.84" fill="#0022ff"/>
<rect x="485.28" y="91.28" width="8.93" height="8.84" fill="#0022ff"/>
<rect x="493.91" y="91.28" width="8.93" height="8.84" fill="#00f8ff"/>
<rect x="502.54" y="91.28" width="8.93" height="8.84" fill="#2fffd0"/>
<rect x="511.18" y="91.28" width="8.93" height="8.84" fill="#00c3ff"/>
<rect x="519.81" y="91.28" width="8.93" height="8.84" fill="#9aff65"/>
<rect x="528.44" y="91.28" width="8.93" height="8.84" fill="#00c3ff"/>
<rect x="537.07" y="91.28" width="8.93" height="8.84" fill="#00f8ff"/>
<rect x="545.70" y="91.28" width="8.93" height="8.84" fill="#2fffd0"/>
<rect x="554.34" y="91.28" width="8.93" height="8.84" fill="#d0ff2f"/>
<rect x="562.97" y="91.28" width="8.93" height="8.84" fill="#fff800"/>
<rect x="571.60" y="91.28" width="8.93" height="8.84" fill="#d0ff2f"/>
<rect x="580.23" y="91.28" width="8.93" height="8.84" fill="#65ff9a"/>
<rect x="588.86" y="91.28" width="8.93" height="8.84" fill="#65ff9a"/>
<rect x="597.50" y="91.28" width="8.93" height="8.84" fill="#65ff9a"/>
<rect x="606.13" y="91.28" width="8.93" height="8.84" fill="#2fffd0"/>
<rect x="614.76" y="91.28" width="8.93" height="8.84" fill="#9aff65"/>
<rect x="355.80" y="99.81" width="8.93" height="8.84" fill="#65ff9a"/>
<rect x="364.43" y="99.81" width="8.93" height="8.84" fill="#9aff65"/>
<rect x="373.06" y="99.81" width="8.93" height="8.84" fill="#d0ff2f"/>
<rect x="381.70" y="99.81" width="8.93" height="8.84" fill="#65ff9a"/>
<rect x="390.33" y="99.81" width="8.93" height="8.84" fill="#008dff"/>
<rect x="398.96" y="99.81" width="8.93" height="8.84" fill="#00c3ff"/>
<rect x="407.59" y="99.81" width="8.93" height="8.84" fill="#008dff"/>
<rect x="416.22" y="99.81" width="8.93" height="8.84" fill="#00c3ff"/>
<rect x="424.86" y="99.81" width="8.93" height="8.84" fill="#0000eb"/>
<rect x="433.49" y="99.81" width="8.93" height="8.84" fill="#000080"/>
<rect x="442.12" y="99.81" width="8.93" height="8.84" fill="#0000b5"/>
<rect x="450.75" y="99.81" width="8.93" height="8.84" fill="#00c3ff"/>
<rect x="459.38" y="99.81" width="8.93" height="8.84" fill="#0057ff"/>
<rect x="468.02" y="99.81" width="8.93" height="8.84" fill="#0000eb"/>
<rect x="476.65" y="99.81" width="8.93" height="8.84" fill="#0022ff"/>
<rect x="485.28" y="99.81" width="8.93" height="8.84" fill="#008dff"/>
<rect x="493.91" y="99.81" width="8.93" height="8.84" fill="#00f8ff"/>
<rect x="502.54" y="99.81" width="8.93" height="8.84" fill="#2fffd0"/>
<rect x="511.18" y="99.81" width="8.93" height="8.84" fill="#00c3ff"/>
<rect x="519.81" y="99.81" width="8.93" height="8.84" fill="#fff800"/>
<rect x="528.44" y="99.81" width="8.93" height="8.84" fill="#2fffd0"/>
<rect x="537.07" y="99.81" width="8.93" height="8.84" fill="#65ff9a"/>
<rect x="545.70" y="99.81" width="8.93" height="8.84" fill="#9aff65"/>
<rect x="554.34" y="99.81" width="8.93" height="8.84" fill="#ffc300"/>
<rect x="562.97" y="99.81" width="8.93" height="8.84" fill="#ff8d00"/>
<rect x="571.60" y="99.81" width="8.93" height="8.84" fill="#ffc300"/>
<rect x="580.23" y="99.81" width="8.93" height="8.84" fill="#d0ff2f"/>
<rect x="588.86" y="99.81" width="8.93" height="8.84" fill="#d0ff2f"/>
<rect x="597.50" y="99.81" width="8.93" height="8.84" fill="#d0ff2f"/>
<rect x="606.13" y="99.81" width="8.93" height="8.84" fill="#9aff65"/>
<rect x="614.76" y="99.81" width="8.93" height="8.84" fill="#fff800"/>
<rect x="355.80" y="108.35" width="8.93" height="8.84" fill="#2fffd0"/>
<rect x="364.43" y="108.35" width="8.93" height="8.84" fill="#65ff9a"/>
<rect x="373.06" y="108.35" width="8.93" height="8.84" fill="#9aff65"/>
<rect x="381.70" y="108.35" width="8.93" height="8.84" fill="#2fffd0"/>
<rect x="390.33" y="108.35" width="8.93" height="8.84" fill="#0057ff"/>
<rect x="398.96" y="108.35" width="8.93" height="8.84" fill="#008dff"/>
<rect x="407.59" y="108.35" width="8.93" height="8.84" fill="#00c3ff"/>
<rect x="416.22" y="108.35" width="8.93" height="8.84" fill="#008dff"/>
<rect x="424.86" y="108.35" width="8.93" height="8.84" fill="#0000b5"/>
<rect x="433.49" y="108.35" width="8.93" height="8.84" fill="#0000b5"/>
<rect x="442.12" y="108.35" width="8.93" height="8.84" fill="#000080"/>
<rect x="450.75" y="108.35" width="8.93" height="8.84" fill="#008dff"/>
<rect x="459.38" y="108.35" width="8.93" height="8.84" fill="#0022ff"/>
<rect x="468.02" y="108.35" width="8.93" height="8.84" fill="#0022ff"/>
<rect x="476.65" y="108.35" width="8.93" height="8.84" fill="#0000eb"/>
<rect x="485.28" y="108.35" width="8.93" height="8.84" fill="#0057ff"/>
<rect x="493.91" y="108.35" width="8.93" height="8.84" fill="#00c3ff"/>
<rect x="502.54" y="108.35" width="8.93" height="8.84" fill="#00f8ff"/>
<rect x="511.18" y="108.35" width="8.93" height="8.84" fill="#008dff"/>
<rect x="519.81" y="108.35" width="8.93" height="8.84" fill="#d0ff2f"/>
<rect x="528.44" y="108.35" width="8.93" height="8.84" fill="#00f8ff"/>
<rect x="537.07" y="108.35" width="8.93" height="8.84" fill="#2fffd0"/>
<rect x="545.70" y="108.35" width="8.93" height="8.84" fill="#65ff9a"/>
<rect x="554.34" y="108.35" width="8.93" height="8.84" fill="#fff800"/>
<rect x="562.97" y="108.35" width="8.93" height="8.84" fill="#ffc300"/>
<rect x="571.60" y="108.35" width="8.93" height="8.84" fill="#fff800"/>
<rect x="580.23" y="108.35" width="8.93" height="8.84" fill="#9aff65"/>
<rect x="588.86" y="108.35" width="8.93" height="8.84" fill="#9aff65"/>
<rect x="597.50" y="108.35" width="8.93" height="8.84" fill="#9aff65"/>
<rect x="606.13" y="108.35" width="8.93" height="8.84" fill="#65ff9a"/>
<rect x="614.76" y="108.35" width="8.93" height="8.84" fill="#d0ff2f"/>
<rect x="355.80" y="116.89" width="8.93" height="8.84" fill="#ffc300"/>
<rect x="364.43" y="116.89" width="8.93" height="8.84" fill="#fff800"/>
<rect x="373.06" y="116.89" width="8.93" height="8.84" fill="#d0ff2f"/>
<rect x="381.70" y="116.89" width="8.93" height="8.84" fill="#d0ff2f"/>
<rect x="390.33" y="116.89" width="8.93" height="8.84" fill="#65ff9a"/>
<rect x="398.96" y="116.89" width="8.93" height="8.84" fill="#00c3ff"/>
<rect x="407.59" y="116.89" width="8.93" height="8.84" fill="#00f8ff"/>
<rect x="416.22" y="116.89" width="8.93" height="8.84" fill="#00c3ff"/>
<rect x="424.86" y="116.89" width="8.93" height="8.84" fill="#00c3ff"/>
<rect x="433.49" y="116.89" width="8.93" height="8.84" fill="#00c3ff"/>
<rect x="442.12" y="116.89" width="8.93" height="8.84" fill="#008dff"/>
<rect x="450.75" y="116.89" width="8.93" height="8.84" fill="#000080"/>
<rect x="459.38" y="116.89" width="8.93" height="8.84" fill="#0000eb"/>
<rect x="468.02" y="116.89" width="8.93" height="8.84" fill="#0057ff"/>
<rect x="476.65" y="116.89" width="8.93" height="8.84" fill="#0022ff"/>
<rect x="485.28" y="116.89" width="8.93" height="8.84" fill="#008dff"/>
<rect x="493.91" y="116.89" width="8.93" height="8.84" fill="#00f8ff"/>
<rect x="502.54" y="116.89" width="8.93" height="8.84" fill="#2fffd0"/>
<rect x="511.18" y="116.89" width="8.93" height="8.84" fill="#00c3ff"/>
<rect x="519.81" y="116.89" width="8.93" height="8.84" fill="#ff8d00"/>
<rect x="528.44" y="116.89" width="8.93" height="8.84" fill="#9aff65"/>
<rect x="537.07" y="116.89" width="8.93" height="8.84" fill="#d0ff2f"/>
<rect x="545.70" y="116.89" width="8.93" height="8.84" fill="#fff800"/>
<rect x="554.34" y="116.89" width="8.93" height="8.84" fill="#ff5700"/>
<rect x="562.97" y="116.89" width="8.93" height="8.84" fill="#ff2200"/>
<rect x="571.60" y="116.89" width="8.93" height="8.84" fill="#eb0000"/>
<rect x="580.23" y="116.89" width="8.93" height="8.84" fill="#ff5700"/>
<rect x="588.86" y="116.89" width="8.93" height="8.84" fill="#ff5700"/>
<rect x="597.50" y="116.89" width="8.93" height="8.84" fill="#ff5700"/>
<rect x="606.13" y="116.89" width="8.93" height="8.84" fill="#ff8d00"/>
<rect x="614.76" y="116.89" width="8.93" height="8.84" fill="#ff2200"/>
<rect x="355.80" y="125.42" width="8.93" height="8.84" fill="#d0ff2f"/>
<rect x="364.43" y="125.42" width="8.93" height="8.84" fill="#fff800"/>
<rect x="373.06" y="125.42" width="8.93" height="8.84" fill="#ffc300"/>
<rect x="381.70" y="125.42" width="8.93" height="8.84" fill="#d0ff2f"/>
<rect x="390.33" y="125.42" width="8.93" height="8.84" fill="#00f8ff"/>
<rect x="398.96" y="125.42" width="8.93" height="8.84" fill="#00c3ff"/>
<rect x="407.59" y="125.42" width="8.93" height="8.84" fill="#00f8ff"/>
<rect x="416.22" y="125.42" width="8.93" height="8.84" fill="#2fffd0"/>
<rect x="424.86" y="125.42" width="8.93" height="8.84" fill="#0057ff"/>
<rect x="433.49" y="125.42" width="8.93" height="8.84" fill="#0057ff"/>
<rect x="442.12" y="125.42" width="8.93" height="8.84" fill="#0022ff"/>
<rect x="450.75" y="125.42" width="8.93" height="8.84" fill="#0000eb"/>
<rect x="459.38" y="125.42" width="8.93" height="8.84" fill="#000080"/>
<rect x="468.02" y="125.42" width="8.93" height="8.84" fill="#0000eb"/>
<rect x="476.65" y="125.42" width="8.93" height="8.84" fill="#0000b5"/>
<rect x="485.28" y="125.42" width="8.93" height="8.84" fill="#0022ff"/>
<rect x="493.91" y="125.42" width="8.93" height="8.84" fill="#008dff"/>
<rect x="502.54" y="125.42" width="8.93" height="8.84" fill="#00c3ff"/>
<rect x="511.18" y="125.42" width="8.93" height="8.84" fill="#0057ff"/>
<rect x="519.81" y="125.42" width="8.93" height="8.84" fill="#ff8d00"/>
<rect x="528.44" y="125.42" width="8.93" height="8.84" fill="#9aff65"/>
<rect x="537.07" y="125.42" width="8.93" height="8.84" fill="#d0ff2f"/>
<rect x="545.70" y="125.42" width="8.93" height="8.84" fill="#fff800"/>
<rect x="554.34" y="125.42" width="8.93" height="8.84" fill="#ff5700"/>
<rect x="562.97" y="125.42" width="8.93" height="8.84" fill="#ff2200"/>
<rect x="571.60" y="125.42" width="8.93" height="8.84" fill="#ff5700"/>
<rect x="580.23" y="125.42" width="8.93" height="8.84" fill="#ffc300"/>
<rect x="588.86" y="125.42" width="8.93" height="8.84" fill="#ffc300"/>
<rect x="597.50" y="125.42" width="8.93" height="8.84" fill="#ffc300"/>
<rect x="606.13" y="125.42" width="8.93" height="8.84" fill="#fff800"/>
<rect x="614.76" y="125.42" width="8.93" height="8.84" fill="#ff8d00"/>
<rect x="355.80" y="133.95" width="8.93" height="8.84" fill="#d0ff2f"/>
<rect x="364.43" y="133.95" width="8.93" height="8.84" fill="#fff800"/>
<rect x="373.06" y="133.95" width="8.93" height="8.84" fill="#ffc300"/>
<rect x="381.70" y="133.95" width="8.93" height="8.84" fill="#d0ff2f"/>
<rect x="390.33" y="133.95" width="8.93" height="8.84" fill="#00f8ff"/>
<rect x="398.96" y="133.95" width="8.93" height="8.84" fill="#00c3ff"/>
<rect x="407.59" y="133.95" width="8.93" height="8.84" fill="#008dff"/>
<rect x="416.22" y="133.95" width="8.93" height="8.84" fill="#2fffd0"/>
<rect x="424.86" y="133.95" width="8.93" height="8.84" fill="#0057ff"/>
<rect x="433.49" y="133.95" width="8.93" height="8.84" fill="#0000eb"/>
<rect x="442.12" y="133.95" width="8.93" height="8.84" fill="#0022ff"/>
<rect x="450.75" y="133.95" width="8.93" height="8.84" fill="#0057ff"/>
<rect x="459.38" y="133.95" width="8.93" height="8.84" fill="#0000eb"/>
<rect x="468.02" y="133.95" width="8.93" height="8.84" fill="#000080"/>
<rect x="476.65" y="133.95" width="8.93" height="8.84" fill="#0000b5"/>
<rect x="485.28" y="133.95" width="8.93" height="8.84" fill="#0022ff"/>
<rect x="493.91" y="133.95" width="8.93" height="8.84" fill="#008dff"/>
<rect x="502.54" y="133.95" width="8.93" height="8.84" fill="#00c3ff"/>
<rect x="511.18" y="133.95" width="8.93" height="8.84" fill="#0057ff"/>
<rect x="519.81" y="133.95" width="8.93" height="8.84" fill="#ff8d00"/>
<rect x="528.44" y="133.95" width="8.93" height="8.84" fill="#9aff65"/>
<rect x="537.07" y="133.95" width="8.93" height="8.84" fill="#d0ff2f"/>
<rect x="545.70" y="133.95" width="8.93" height="8.84" fill="#fff800"/>
<rect x="554.34" y="133.95" width="8.93" height="8.84" fill="#ff5700"/>
<rect x="562.97" y="133.95" width="8.93" height="8.84" fill="#ff2200"/>
<rect x="571.60" y="133.95" width="8.93" height="8.84" fill="#ff5700"/>
<rect x="580.23" y="133.95" width="8.93" height="8.84" fill="#ffc300"/>
<rect x="588.86" y="133.95" width="8.93" height="8.84" fill="#ffc300"/>
<rect x="597.50" y="133.95" width="8.93" height="8.84" fill="#ffc300"/>
<rect x="606.13" y="133.95" width="8.93" height="8.84" fill="#fff800"/>
<rect x="614.76" y="133.95" width="8.93" height="8.84" fill="#ff8d00"/>
<rect x="355.80" y="142.49" width="8.93" height="8.84" fill="#9aff65"/>
<rect x="364.43" y="142.49" width="8.93" height="8.84" fill="#d0ff2f"/>
<rect x="373.06" y="142.49" width="8.93" height="8.84" fill="#fff800"/>
<rect x="381.70" y="142.49" width="8.93" height="8.84" fill="#9aff65"/>
<rect x="390.33" y="142.49" width="8.93" height="8.84" fill="#00c3ff"/>
<rect x="398.96" y="142.49" width="8.93" height="8.84" fill="#008dff"/>
<rect x="407.59" y="142.49" width="8.93" height="8.84" fill="#00c3ff"/>
<rect x="416.22" y="142.49" width="8.93" height="8.84" fill="#00f8ff"/>
<rect x="424.86" y="142.49" width="8.93" height="8.84" fill="#0022ff"/>
<rect x="433.49" y="142.49" width="8.93" height="8.84" fill="#0022ff"/>
<rect x="442.12" y="142.49" width="8.93" height="8.84" fill="#0000eb"/>
<rect x="450.75" y="142.49" width="8.93" height="8.84" fill="#0022ff"/>
<rect x="459.38" y="142.49" width="8.93" height="8.84" fill="#0000b5"/>
<rect x="468.02" y="142.49" width="8.93" height="8.84" fill="#0000b5"/>
<rect x="476.65" y="142.49" width="8.93" height="8.84" fill="#000080"/>
<rect x="485.28" y="142.49" width="8.93" height="8.84" fill="#0000eb"/>
<rect x="493.91" y="142.49" width="8.93" height="8.84" fill="#0057ff"/>
<rect x="502.54" y="142.49" width="8.93" height="8.84" fill="#008dff"/>
<rect x="511.18" y="142.49" width="8.93" height="8.84" fill="#0022ff"/>
<rect x="519.81" y="142.49" width="8.93" height="8.84" fill="#ffc300"/>
<rect x="528.44" y="142.49" width="8.93" height="8.84" fill="#65ff9a"/>
<rect x="537.07" y="142.49" width="8.93" height="8.84" fill="#9aff65"/>
<rect x="545.70" y="142.49" width="8.93" height="8.84" fill="#d0ff2f"/>
<rect x="554.34" y="142.49" width="8.93" height="8.84" fill="#ff8d00"/>
<rect x="562.97" y="142.49" width="8.93" height="8.84" fill="#ff5700"/>
<rect x="571.60" y="142.49" width="8.93" height="8.84" fill="#ff8d00"/>
<rect x="580.23" y="142.49" width="8.93" height="8.84" fill="#fff800"/>
<rect x="588.86" y="142.49" width="8.93" height="8.84" fill="#fff800"/>
<rect x="597.50" y="142.49" width="8.93" height="8.84" fill="#fff800"/>
<rect x="606.13" y="142.49" width="8.93" height="8.84" fill="#d0ff2f"/>
<rect x="614.76" y="142.49" width="8.93" height="8.84" fill="#ffc300"/>
<rect x="355.80" y="151.03" width="8.93" height="8.84" fill="#fff800"/>
<rect x="364.43" y="151.03" width="8.93" height="8.84" fill="#ffc300"/>
<rect x="373.06" y="151.03" width="8.93" height="8.84" fill="#9aff65"/>
<rect x="381.70" y="151.03" width="8.93" height="8.84" fill="#2fffd0"/>
<rect x="390.33" y="151.03" width="8.93" height="8.84" fill="#00c3ff"/>
<rect x="398.96" y="151.03" width="8.93" height="8.84" fill="#00f8ff"/>
<rect x="407.59" y="151.03" width="8.93" height="8.84" fill="#2fffd0"/>
<rect x="416.22" y="151.03" width="8.93" height="8.84" fill="#00f8ff"/>
<rect x="424.86" y="151.03" width="8.93" height="8.84" fill="#0022ff"/>
<rect x="433.49" y="151.03" width="8.93" height="8.84" fill="#008dff"/>
<rect x="442.12" y="151.03" width="8.93" height="8.84" fill="#0057ff"/>
<rect x="450.75" y="151.03" width="8.93" height="8.84" fill="#008dff"/>
<rect x="459.38" y="151.03" width="8.93" height="8.84" fill="#0022ff"/>
<rect x="468.02" y="151.03" width="8.93" height="8.84" fill="#0022ff"/>
<rect x="476.65" y="151.03" width="8.93" height="8.84" fill="#0000eb"/>
<rect x="485.28" y="151.03" width="8.93" height="8.84" fill="#000080"/>
<rect x="493.91" y="151.03" width="8.93" height="8.84" fill="#00c3ff"/>
<rect x="502.54" y="151.03" width="8.93" height="8.84" fill="#00f8ff"/>
<rect x="511.18" y="151.03" width="8.93" height="8.84" fill="#0022ff"/>
<rect x="519.81" y="151.03" width="8.93" height="8.84" fill="#ffc300"/>
<rect x="528.44" y="151.03" width="8.93" height="8.84" fill="#65ff9a"/>
<rect x="537.07" y="151.03" width="8.93" height="8.84" fill="#9aff65"/>
<rect x="545.70" y="151.03" width="8.93" height="8.84" fill="#d0ff2f"/>
<rect x="554.34" y="151.03" width="8.93" height="8.84" fill="#ff8d00"/>
<rect x="562.97" y="151.03" width="8.93" height="8.84" fill="#ff5700"/>
<rect x="571.60" y="151.03" width="8.93" height="8.84" fill="#ff8d00"/>
<rect x="580.23" y="151.03" width="8.93" height="8.84" fill="#fff800"/>
<rect x="588.86" y="151.03" width="8.93" height="8.84" fill="#fff800"/>
<rect x="597.50" y="151.03" width="8.93" height="8.84" fill="#fff800"/>
<rect x="606.13" y="151.03" width="8.93" height="8.84" fill="#d0ff2f"/>
<rect x="614.76" y="151.03" width="8.93" height="8.84" fill="#ffc300"/>
<rect x="355.80" y="159.56" width="8.93" height="8.84" fill="#00c3ff"/>
<rect x="364.43" y="159.56" width="8.93" height="8.84" fill="#00f8ff"/>
<rect x="373.06" y="159.56" width="8.93" height="8.84" fill="#fff800"/>
<rect x="381.70" y="159.56" width="8.93" height="8.84" fill="#9aff65"/>
<rect x="390.33" y="159.56" width="8.93" height="8.84" fill="#9aff65"/>
<rect x="398.96" y="159.56" width="8.93" height="8.84" fill="#65ff9a"/>
<rect x="407.59" y="159.56" width="8.93" height="8.84" fill="#9aff65"/>
<rect x="416.22" y="159.56" width="8.93" height="8.84" fill="#d0ff2f"/>
<rect x="424.86" y="159.56" width="8.93" height="8.84" fill="#00f8ff"/>
<rect x="433.49" y="159.56" width="8.93" height="8.84" fill="#00f8ff"/>
<rect x="442.12" y="159.56" width="8.93" height="8.84" fill="#00c3ff"/>
<rect x="450.75" y="159.56" width="8.93" height="8.84" fill="#00f8ff"/>
<rect x="459.38" y="159.56" width="8.93" height="8.84" fill="#008dff"/>
<rect x="468.02" y="159.56" width="8.93" height="8.84" fill="#008dff"/>
<rect x="476.65" y="159.56" width="8.93" height="8.84" fill="#0057ff"/>
<rect x="485.28" y="159.56" width="8.93" height="8.84" fill="#00c3ff"/>
<rect x="493.91" y="159.56" width="8.93" height="8.84" fill="#000080"/>
<rect x="502.54" y="159.56" width="8.93" height="8.84" fill="#0000b5"/>
<rect x="511.18" y="159.56" width="8.93" height="8.84" fill="#0022ff"/>
<rect x="519.81" y="159.56" width="8.93" height="8.84" fill="#65ff9a"/>
<rect x="528.44" y="159.56" width="8.93" height="8.84" fill="#ffc300"/>
<rect x="537.07" y="159.56" width="8.93" height="8.84" fill="#ff8d00"/>
<rect x="545.70" y="159.56" width="8.93" height="8.84" fill="#ff5700"/>
<rect x="554.34" y="159.56" width="8.93" height="8.84" fill="#b50000"/>
<rect x="562.97" y="159.56" width="8.93" height="8.84" fill="#ff5700"/>
<rect x="571.60" y="159.56" width="8.93" height="8.84" fill="#ff8d00"/>
<rect x="580.23" y="159.56" width="8.93" height="8.84" fill="#fff800"/>
<rect x="588.86" y="159.56" width="8.93" height="8.84" fill="#fff800"/>
<rect x="597.50" y="159.56" width="8.93" height="8.84" fill="#fff800"/>
<rect x="606.13" y="159.56" width="8.93" height="8.84" fill="#d0ff2f"/>
<rect x="614.76" y="159.56" width="8.93" height="8.84" fill="#ffc300"/>
<rect x="355.80" y="168.09" width="8.93" height="8.84" fill="#008dff"/>
<rect x="364.43" y="168.09" width="8.93" height="8.84" fill="#00c3ff"/>
<rect x="373.06" y="168.09" width="8.93" height="8.84" fill="#d0ff2f"/>
<rect x="381.70" y="168.09" width="8.93" height="8.84" fill="#d0ff2f"/>
<rect x="390.33" y="168.09" width="8.93" height="8.84" fill="#d0ff2f"/>
<rect x="398.96" y="168.09" width="8.93" height="8.84" fill="#9aff65"/>
<rect x="407.59" y="168.09" width="8.93" height="8.84" fill="#d0ff2f"/>
<rect x="416.22" y="168.09" width="8.93" height="8.84" fill="#fff800"/>
<rect x="424.86" y="168.09" width="8.93" height="8.84" fill="#2fffd0"/>
<rect x="433.49" y="168.09" width="8.93" height="8.84" fill="#2fffd0"/>
<rect x="442.12" y="168.09" width="8.93" height="8.84" fill="#00f8ff"/>
<rect x="450.75" y="168.09" width="8.93" height="8.84" fill="#2fffd0"/>
<rect x="459.38" y="168.09" width="8.93" height="8.84" fill="#00c3ff"/>
<rect x="468.02" y="168.09" width="8.93" height="8.84" fill="#00c3ff"/>
<rect x="476.65" y="168.09" width="8.93" height="8.84" fill="#008dff"/>
<rect x="485.28" y="168.09" width="8.93" height="8.84" fill="#00f8ff"/>
<rect x="493.91" y="168.09" width="8.93" height="8.84" fill="#0000b5"/>
<rect x="502.54" y="168.09" width="8.93" height="8.84" fill="#000080"/>
<rect x="511.18" y="168.09" width="8.93" height="8.84" fill="#0057ff"/>
<rect x="519.81" y="168.09" width="8.93" height="8.84" fill="#9aff65"/>
<rect x="528.44" y="168.09" width="8.93" height="8.84" fill="#ff8d00"/>
<rect x="537.07" y="168.09" width="8.93" height="8.84" fill="#ff5700"/>
<rect x="545.70" y="168.09" width="8.93" height="8.84" fill="#ff2200"/>
<rect x="554.34" y="168.09" width="8.93" height="8.84" fill="#800000"/>
<rect x="562.97" y="168.09" width="8.93" height="8.84" fill="#ff2200"/>
<rect x="571.60" y="168.09" width="8.93" height="8.84" fill="#ff5700"/>
<rect x="580.23" y="168.09" width="8.93" height="8.84" fill="#ffc300"/>
<rect x="588.86" y="168.09" width="8.93" height="8.84" fill="#ffc300"/>
<rect x="597.50" y="168.09" width="8.93" height="8.84" fill="#ffc300"/>
<rect x="606.13" y="168.09" width="8.93" height="8.84" fill="#fff800"/>
<rect x="614.76" y="168.09" width="8.93" height="8.84" fill="#ff8d00"/>
<rect x="355.80" y="176.63" width="8.93" height="8.84" fill="#65ff9a"/>
<rect x="364.43" y="176.63" width="8.93" height="8.84" fill="#9aff65"/>
<rect x="373.06" y="176.63" width="8.93" height="8.84" fill="#65ff9a"/>
<rect x="381.70" y="176.63" width="8.93" height="8.84" fill="#00f8ff"/>
<rect x="390.33" y="176.63" width="8.93" height="8.84" fill="#65ff9a"/>
<rect x="398.96" y="176.63" width="8.93" height="8.84" fill="#2fffd0"/>
<rect x="407.59" y="176.63" width="8.93" height="8.84" fill="#65ff9a"/>
<rect x="416.22" y="176.63" width="8.93" height="8.84" fill="#9aff65"/>
<rect x="424.86" y="176.63" width="8.93" height="8.84" fill="#00c3ff"/>
<rect x="433.49" y="176.63" width="8.93" height="8.84" fill="#00c3ff"/>
<rect x="442.12" y="176.63" width="8.93" height="8.84" fill="#008dff"/>
<rect x="450.75" y="176.63" width="8.93" height="8.84" fill="#00c3ff"/>
<rect x="459.38" y="176.63" width="8.93" height="8.84" fill="#0057ff"/>
<rect x="468.02" y="176.63" width="8.93" height="8.84" fill="#0057ff"/>
<rect x="476.65" y="176.63" width="8.93" height="8.84" fill="#0022ff"/>
<rect x="485.28" y="176.63" width="8.93" height="8.84" fill="#0022ff"/>
<rect x="493.91" y="176.63" width="8.93" height="8.84" fill="#0022ff"/>
<rect x="502.54" y="176.63" width="8.93" height="8.84" fill="#0057ff"/>
<rect x="511.18" y="176.63" width="8.93" height="8.84" fill="#000080"/>
<rect x="519.81" y="176.63" width="8.93" height="8.84" fill="#fff800"/>
<rect x="528.44" y="176.63" width="8.93" height="8.84" fill="#fff800"/>
<rect x="537.07" y="176.63" width="8.93" height="8.84" fill="#ffc300"/>
<rect x="545.70" y="176.63" width="8.93" height="8.84" fill="#ff8d00"/>
<rect x="554.34" y="176.63" width="8.93" height="8.84" fill="#eb0000"/>
<rect x="562.97" y="176.63" width="8.93" height="8.84" fill="#b50000"/>
<rect x="571.60" y="176.63" width="8.93" height="8.84" fill="#eb0000"/>
<rect x="580.23" y="176.63" width="8.93" height="8.84" fill="#ff5700"/>
<rect x="588.86" y="176.63" width="8.93" height="8.84" fill="#ff5700"/>
<rect x="597.50" y="176.63" width="8.93" height="8.84" fill="#ff5700"/>
<rect x="606.13" y="176.63" width="8.93" height="8.84" fill="#ff8d00"/>
<rect x="614.76" y="176.63" width="8.93" height="8.84" fill="#ff2200"/>
<rect x="355.80" y="185.16" width="8.93" height="8.84" fill="#d0ff2f"/>
<rect x="364.43" y="185.16" width="8.93" height="8.84" fill="#9aff65"/>
<rect x="373.06" y="185.16" width="8.93" height="8.84" fill="#ffc300"/>
<rect x="381.70" y="185.16" width="8.93" height="8.84" fill="#d0ff2f"/>
<rect x="390.33" y="185.16" width="8.93" height="8.84" fill="#ffc300"/>
<rect x="398.96" y="185.16" width="8.93" height="8.84" fill="#ff8d00"/>
<rect x="407.59" y="185.16" width="8.93" height="8.84" fill="#ff5700"/>
<rect x="416.22" y="185.16" width="8.93" height="8.84" fill="#2fffd0"/>
<rect x="424.86" y="185.16" width="8.93" height="8.84" fill="#9aff65"/>
<rect x="433.49" y="185.16" width="8.93" height="8.84" fill="#fff800"/>
<rect x="442.12" y="185.16" width="8.93" height="8.84" fill="#d0ff2f"/>
<rect x="450.75" y="185.16" width="8.93" height="8.84" fill="#ff8d00"/>
<rect x="459.38" y="185.16" width="8.93" height="8.84" fill="#ff8d00"/>
<rect x="468.02" y="185.16" width="8.93" height="8.84" fill="#ff8d00"/>
<rect x="476.65" y="185.16" width="8.93" height="8.84" fill="#ffc300"/>
<rect x="485.28" y="185.16" width="8.93" height="8.84" fill="#ffc300"/>
<rect x="493.91" y="185.16" width="8.93" height="8.84" fill="#65ff9a"/>
<rect x="502.54" y="185.16" width="8.93" height="8.84" fill="#9aff65"/>
<rect x="511.18" y="185.16" width="8.93" height="8.84" fill="#fff800"/>
<rect x="519.81" y="185.16" width="8.93" height="8.84" fill="#000080"/>
<rect x="528.44" y="185.16" width="8.93" height="8.84" fill="#0057ff"/>
<rect x="537.07" y="185.16" width="8.93" height="8.84" fill="#008dff"/>
<rect x="545.70" y="185.16" width="8.93" height="8.84" fill="#00c3ff"/>
<rect x="554.34" y="185.16" width="8.93" height="8.84" fill="#65ff9a"/>
<rect x="562.97" y="185.16" width="8.93" height="8.84" fill="#00c3ff"/>
<rect x="571.60" y="185.16" width="8.93" height="8.84" fill="#ffc300"/>
<rect x="580.23" y="185.16" width="8.93" height="8.84" fill="#ffc300"/>
<rect x="588.86" y="185.16" width="8.93" height="8.84" fill="#ffc300"/>
<rect x="597.50" y="185.16" width="8.93" height="8.84" fill="#d0ff2f"/>
<rect x="606.13" y="185.16" width="8.93" height="8.84" fill="#fff800"/>
<rect x="614.76" y="185.16" width="8.93" height="8.84" fill="#fff800"/>
<rect x="355.80" y="193.70" width="8.93" height="8.84" fill="#ff5700"/>
<rect x="364.43" y="193.70" width="8.93" height="8.84" fill="#ff8d00"/>
<rect x="373.06" y="193.70" width="8.93" height="8.84" fill="#ffc300"/>
<rect x="381.70" y="193.70" width="8.93" height="8.84" fill="#d0ff2f"/>
<rect x="390.33" y="193.70" width="8.93" height="8.84" fill="#65ff9a"/>
<rect x="398.96" y="193.70" width="8.93" height="8.84" fill="#9aff65"/>
<rect x="407.59" y="193.70" width="8.93" height="8.84" fill="#d0ff2f"/>
<rect x="416.22" y="193.70" width="8.93" height="8.84" fill="#0057ff"/>
<rect x="424.86" y="193.70" width="8.93" height="8.84" fill="#00c3ff"/>
<rect x="433.49" y="193.70" width="8.93" height="8.84" fill="#2fffd0"/>
<rect x="442.12" y="193.70" width="8.93" height="8.84" fill="#00f8ff"/>
<rect x="450.75" y="193.70" width="8.93" height="8.84" fill="#9aff65"/>
<rect x="459.38" y="193.70" width="8.93" height="8.84" fill="#9aff65"/>
<rect x="468.02" y="193.70" width="8.93" height="8.84" fill="#9aff65"/>
<rect x="476.65" y="193.70" width="8.93" height="8.84" fill="#65ff9a"/>
<rect x="485.28" y="193.70" width="8.93" height="8.84" fill="#65ff9a"/>
<rect x="493.91" y="193.70" width="8.93" height="8.84" fill="#ffc300"/>
<rect x="502.54" y="193.70" width="8.93" height="8.84" fill="#ff8d00"/>
<rect x="511.18" y="193.70" width="8.93" height="8.84" fill="#fff800"/>
<rect x="519.81" y="193.70" width="8.93" height="8.84" fill="#0057ff"/>
<rect x="528.44" y="193.70" width="8.93" height="8.84" fill="#000080"/>
<rect x="537.07" y="193.70" width="8.93" height="8.84" fill="#0000b5"/>
<rect x="545.70" y="193.70" width="8.93" height="8.84" fill="#0000eb"/>
<rect x="554.34" y="193.70" width="8.93" height="8.84" fill="#008dff"/>
<rect x="562.97" y="193.70" width="8.93" height="8.84" fill="#00c3ff"/>
<rect x="571.60" y="193.70" width="8.93" height="8.84" fill="#ffc300"/>
<rect x="580.23" y="193.70" width="8.93" height="8.84" fill="#ffc300"/>
<rect x="588.86" y="193.70" width="8.93" height="8.84" fill="#ffc300"/>
<rect x="597.50" y="193.70" width="8.93" height="8.84" fill="#d0ff2f"/>
<rect x="606.13" y="193.70" width="8.93" height="8.84" fill="#fff800"/>
<rect x="614.76" y="193.70" width="8.93" height="8.84" fill="#fff800"/>
<rect x="355.80" y="202.24" width="8.93" height="8.84" fill="#ff2200"/>
<rect x="364.43" y="202.24" width="8.93" height="8.84" fill="#ff5700"/>
<rect x="373.06" y="202.24" width="8.93" height="8.84" fill="#ff8d00"/>
<rect x="381.70" y="202.24" width="8.93" height="8.84" fill="#fff800"/>
<rect x="390.33" y="202.24" width="8.93" height="8.84" fill="#9aff65"/>
<rect x="398.96" y="202.24" width="8.93" height="8.84" fill="#d0ff2f"/>
<rect x="407.59" y="202.24" width="8.93" height="8.84" fill="#fff800"/>
<rect x="416.22" y="202.24" width="8.93" height="8.84" fill="#008dff"/>
<rect x="424.86" y="202.24" width="8.93" height="8.84" fill="#00f8ff"/>
<rect x="433.49" y="202.24" width="8.93" height="8.84" fill="#65ff9a"/>
<rect x="442.12" y="202.24" width="8.93" height="8.84" fill="#2fffd0"/>
<rect x="450.75" y="202.24" width="8.93" height="8.84" fill="#d0ff2f"/>
<rect x="459.38" y="202.24" width="8.93" height="8.84" fill="#d0ff2f"/>
<rect x="468.02" y="202.24" width="8.93" height="8.84" fill="#d0ff2f"/>
<rect x="476.65" y="202.24" width="8.93" height="8.84" fill="#9aff65"/>
<rect x="485.28" y="202.24" width="8.93" height="8.84" fill="#9aff65"/>
<rect x="493.91" y="202.24" width="8.93" height="8.84" fill="#ff8d00"/>
<rect x="502.54" y="202.24" width="8.93" height="8.84" fill="#ff5700"/>
<rect x="511.18" y="202.24" width="8.93" height="8.84" fill="#ffc300"/>
<rect x="519.81" y="202.24" width="8.93" height="8.84" fill="#008dff"/>
<rect x="528.44" y="202.24" width="8.93" height="8.84" fill="#0000b5"/>
<rect x="537.07" y="202.24" width="8.93" height="8.84" fill="#000080"/>
<rect x="545.70" y="202.24" width="8.93" height="8.84" fill="#0000b5"/>
<rect x="554.34" y="202.24" width="8.93" height="8.84" fill="#0057ff"/>
<rect x="562.97" y="202.24" width="8.93" height="8.84" fill="#008dff"/>
<rect x="571.60" y="202.24" width="8.93" height="8.84" fill="#fff800"/>
<rect x="580.23" y="202.24" width="8.93" height="8.84" fill="#fff800"/>
<rect x="588.86" y="202.24" width="8.93" height="8.84" fill="#ff8d00"/>
<rect x="597.50" y="202.24" width="8.93" height="8.84" fill="#fff800"/>
<rect x="606.13" y="202.24" width="8.93" height="8.84" fill="#ffc300"/>
<rect x="614.76" y="202.24" width="8.93" height="8.84" fill="#ffc300"/>
<rect x="355.80" y="210.77" width="8.93" height="8.84" fill="#eb0000"/>
<rect x="364.43" y="210.77" width="8.93" height="8.84" fill="#ff2200"/>
<rect x="373.06" y="210.77" width="8.93" height="8.84" fill="#ff5700"/>
<rect x="381.70" y="210.77" width="8.93" height="8.84" fill="#ffc300"/>
<rect x="390.33" y="210.77" width="8.93" height="8.84" fill="#d0ff2f"/>
<rect x="398.96" y="210.77" width="8.93" height="8.84" fill="#fff800"/>
<rect x="407.59" y="210.77" width="8.93" height="8.84" fill="#ffc300"/>
<rect x="416.22" y="210.77" width="8.93" height="8.84" fill="#00c3ff"/>
<rect x="424.86" y="210.77" width="8.93" height="8.84" fill="#2fffd0"/>
<rect x="433.49" y="210.77" width="8.93" height="8.84" fill="#9aff65"/>
<rect x="442.12" y="210.77" width="8.93" height="8.84" fill="#65ff9a"/>
<rect x="450.75" y="210.77" width="8.93" height="8.84" fill="#fff800"/>
<rect x="459.38" y="210.77" width="8.93" height="8.84" fill="#fff800"/>
<rect x="468.02" y="210.77" width="8.93" height="8.84" fill="#fff800"/>
<rect x="476.65" y="210.77" width="8.93" height="8.84" fill="#d0ff2f"/>
<rect x="485.28" y="210.77" width="8.93" height="8.84" fill="#d0ff2f"/>
<rect x="493.91" y="210.77" width="8.93" height="8.84" fill="#ff5700"/>
<rect x="502.54" y="210.77" width="8.93" height="8.84" fill="#ff2200"/>
<rect x="511.18" y="210.77" width="8.93" height="8.84" fill="#ff8d00"/>
<rect x="519.81" y="210.77" width="8.93" height="8.84" fill="#00c3ff"/>
<rect x="528.44" y="210.77" width="8.93" height="8.84" fill="#0000eb"/>
<rect x="537.07" y="210.77" width="8.93" height="8.84" fill="#0000b5"/>
<rect x="545.70" y="210.77" width="8.93" height="8.84" fill="#000080"/>
<rect x="554.34" y="210.77" width="8.93" height="8.84" fill="#0022ff"/>
<rect x="562.97" y="210.77" width="8.93" height="8.84" fill="#0057ff"/>
<rect x="571.60" y="210.77" width="8.93" height="8.84" fill="#d0ff2f"/>
<rect x="580.23" y="210.77" width="8.93" height="8.84" fill="#d0ff2f"/>
<rect x="588.86" y="210.77" width="8.93" height="8.84" fill="#ff5700"/>
<rect x="597.50" y="210.77" width="8.93" height="8.84" fill="#ffc300"/>
<rect x="606.13" y="210.77" width="8.93" height="8.84" fill="#ff8d00"/>
<rect x="614.76" y="210.77" width="8.93" height="8.84" fill="#ff8d00"/>
<rect x="355.80" y="219.31" width="8.93" height="8.84" fill="#ff8d00"/>
<rect x="364.43" y="219.31" width="8.93" height="8.84" fill="#ffc300"/>
<rect x="373.06" y="219.31" width="8.93" height="8.84" fill="#fff800"/>
<rect x="381.70" y="219.31" width="8.93" height="8.84" fill="#9aff65"/>
<rect x="390.33" y="219.31" width="8.93" height="8.84" fill="#2fffd0"/>
<rect x="398.96" y="219.31" width="8.93" height="8.84" fill="#65ff9a"/>
<rect x="407.59" y="219.31" width="8.93" height="8.84" fill="#9aff65"/>
<rect x="416.22" y="219.31" width="8.93" height="8.84" fill="#65ff9a"/>
<rect x="424.86" y="219.31" width="8.93" height="8.84" fill="#d0ff2f"/>
<rect x="433.49" y="219.31" width="8.93" height="8.84" fill="#ffc300"/>
<rect x="442.12" y="219.31" width="8.93" height="8.84" fill="#fff800"/>
<rect x="450.75" y="219.31" width="8.93" height="8.84" fill="#ff5700"/>
<rect x="459.38" y="219.31" width="8.93" height="8.84" fill="#ff5700"/>
<rect x="468.02" y="219.31" width="8.93" height="8.84" fill="#ff5700"/>
<rect x="476.65" y="219.31" width="8.93" height="8.84" fill="#ff8d00"/>
<rect x="485.28" y="219.31" width="8.93" height="8.84" fill="#ff8d00"/>
<rect x="493.91" y="219.31" width="8.93" height="8.84" fill="#b50000"/>
<rect x="502.54" y="219.31" width="8.93" height="8.84" fill="#800000"/>
<rect x="511.18" y="219.31" width="8.93" height="8.84" fill="#eb0000"/>
<rect x="519.81" y="219.31" width="8.93" height="8.84" fill="#65ff9a"/>
<rect x="528.44" y="219.31" width="8.93" height="8.84" fill="#008dff"/>
<rect x="537.07" y="219.31" width="8.93" height="8.84" fill="#0057ff"/>
<rect x="545.70" y="219.31" width="8.93" height="8.84" fill="#0022ff"/>
<rect x="554.34" y="219.31" width="8.93" height="8.84" fill="#000080"/>
<rect x="562.97" y="219.31" width="8.93" height="8.84" fill="#00f8ff"/>
<rect x="571.60" y="219.31" width="8.93" height="8.84" fill="#2fffd0"/>
<rect x="580.23" y="219.31" width="8.93" height="8.84" fill="#9aff65"/>
<rect x="588.86" y="219.31" width="8.93" height="8.84" fill="#fff800"/>
<rect x="597.50" y="219.31" width="8.93" height="8.84" fill="#9aff65"/>
<rect x="606.13" y="219.31" width="8.93" height="8.84" fill="#d0ff2f"/>
<rect x="614.76" y="219.31" width="8.93" height="8.84" fill="#d0ff2f"/>
<rect x="355.80" y="227.84" width="8.93" height="8.84" fill="#eb0000"/>
<rect x="364.43" y="227.84" width="8.93" height="8.84" fill="#ff2200"/>
<rect x="373.06" y="227.84" width="8.93" height="8.84" fill="#800000"/>
<rect x="381.70" y="227.84" width="8.93" height="8.84" fill="#eb0000"/>
<rect x="390.33" y="227.84" width="8.93" height="8.84" fill="#ff5700"/>
<rect x="398.96" y="227.84" width="8.93" height="8.84" fill="#ff2200"/>
<rect x="407.59" y="227.84" width="8.93" height="8.84" fill="#eb0000"/>
<rect x="416.22" y="227.84" width="8.93" height="8.84" fill="#9aff65"/>
<rect x="424.86" y="227.84" width="8.93" height="8.84" fill="#fff800"/>
<rect x="433.49" y="227.84" width="8.93" height="8.84" fill="#ff8d00"/>
<rect x="442.12" y="227.84" width="8.93" height="8.84" fill="#ffc300"/>
<rect x="450.75" y="227.84" width="8.93" height="8.84" fill="#ff2200"/>
<rect x="459.38" y="227.84" width="8.93" height="8.84" fill="#ff2200"/>
<rect x="468.02" y="227.84" width="8.93" height="8.84" fill="#ff2200"/>
<rect x="476.65" y="227.84" width="8.93" height="8.84" fill="#ff5700"/>
<rect x="485.28" y="227.84" width="8.93" height="8.84" fill="#ff5700"/>
<rect x="493.91" y="227.84" width="8.93" height="8.84" fill="#ff5700"/>
<rect x="502.54" y="227.84" width="8.93" height="8.84" fill="#ff2200"/>
<rect x="511.18" y="227.84" width="8.93" height="8.84" fill="#b50000"/>
<rect x="519.81" y="227.84" width="8.93" height="8.84" fill="#00c3ff"/>
<rect x="528.44" y="227.84" width="8.93" height="8.84" fill="#00c3ff"/>
<rect x="537.07" y="227.84" width="8.93" height="8.84" fill="#008dff"/>
<rect x="545.70" y="227.84" width="8.93" height="8.84" fill="#0057ff"/>
<rect x="554.34" y="227.84" width="8.93" height="8.84" fill="#00f8ff"/>
<rect x="562.97" y="227.84" width="8.93" height="8.84" fill="#000080"/>
<rect x="571.60" y="227.84" width="8.93" height="8.84" fill="#00f8ff"/>
<rect x="580.23" y="227.84" width="8.93" height="8.84" fill="#00f8ff"/>
<rect x="588.86" y="227.84" width="8.93" height="8.84" fill="#d0ff2f"/>
<rect x="597.50" y="227.84" width="8.93" height="8.84" fill="#65ff9a"/>
<rect x="606.13" y="227.84" width="8.93" height="8.84" fill="#9aff65"/>
<rect x="614.76" y="227.84" width="8.93" height="8.84" fill="#9aff65"/>
<rect x="355.80" y="236.38" width="8.93" height="8.84" fill="#9aff65"/>
<rect x="364.43" y="236.38" width="8.93" height="8.84" fill="#d0ff2f"/>
<rect x="373.06" y="236.38" width="8.93" height="8.84" fill="#ff8d00"/>
<rect x="381.70" y="236.38" width="8.93" height="8.84" fill="#fff800"/>
<rect x="390.33" y="236.38" width="8.93" height="8.84" fill="#2fffd0"/>
<rect x="398.96" y="236.38" width="8.93" height="8.84" fill="#d0ff2f"/>
<rect x="407.59" y="236.38" width="8.93" height="8.84" fill="#fff800"/>
<rect x="416.22" y="236.38" width="8.93" height="8.84" fill="#d0ff2f"/>
<rect x="424.86" y="236.38" width="8.93" height="8.84" fill="#d0ff2f"/>
<rect x="433.49" y="236.38" width="8.93" height="8.84" fill="#ffc300"/>
<rect x="442.12" y="236.38" width="8.93" height="8.84" fill="#fff800"/>
<rect x="450.75" y="236.38" width="8.93" height="8.84" fill="#eb0000"/>
<rect x="459.38" y="236.38" width="8.93" height="8.84" fill="#ff5700"/>
<rect x="468.02" y="236.38" width="8.93" height="8.84" fill="#ff5700"/>
<rect x="476.65" y="236.38" width="8.93" height="8.84" fill="#ff8d00"/>
<rect x="485.28" y="236.38" width="8.93" height="8.84" fill="#ff8d00"/>
<rect x="493.91" y="236.38" width="8.93" height="8.84" fill="#ff8d00"/>
<rect x="502.54" y="236.38" width="8.93" height="8.84" fill="#ff5700"/>
<rect x="511.18" y="236.38" width="8.93" height="8.84" fill="#eb0000"/>
<rect x="519.81" y="236.38" width="8.93" height="8.84" fill="#ffc300"/>
<rect x="528.44" y="236.38" width="8.93" height="8.84" fill="#ffc300"/>
<rect x="537.07" y="236.38" width="8.93" height="8.84" fill="#fff800"/>
<rect x="545.70" y="236.38" width="8.93" height="8.84" fill="#d0ff2f"/>
<rect x="554.34" y="236.38" width="8.93" height="8.84" fill="#2fffd0"/>
<rect x="562.97" y="236.38" width="8.93" height="8.84" fill="#00f8ff"/>
<rect x="571.60" y="236.38" width="8.93" height="8.84" fill="#000080"/>
<rect x="580.23" y="236.38" width="8.93" height="8.84" fill="#0000eb"/>
<rect x="588.86" y="236.38" width="8.93" height="8.84" fill="#0057ff"/>
<rect x="597.50" y="236.38" width="8.93" height="8.84" fill="#0000eb"/>
<rect x="606.13" y="236.38" width="8.93" height="8.84" fill="#0022ff"/>
<rect x="614.76" y="236.38" width="8.93" height="8.84" fill="#0022ff"/>
<rect x="355.80" y="244.91" width="8.93" height="8.84" fill="#9aff65"/>
<rect x="364.43" y="244.91" width="8.93" height="8.84" fill="#d0ff2f"/>
<rect x="373.06" y="244.91" width="8.93" height="8.84" fill="#ff8d00"/>
<rect x="381.70" y="244.91" width="8.93" height="8.84" fill="#fff800"/>
<rect x="390.33" y="244.91" width="8.93" height="8.84" fill="#2fffd0"/>
<rect x="398.96" y="244.91" width="8.93" height="8.84" fill="#d0ff2f"/>
<rect x="407.59" y="244.91" width="8.93" height="8.84" fill="#fff800"/>
<rect x="416.22" y="244.91" width="8.93" height="8.84" fill="#d0ff2f"/>
<rect x="424.86" y="244.91" width="8.93" height="8.84" fill="#65ff9a"/>
<rect x="433.49" y="244.91" width="8.93" height="8.84" fill="#d0ff2f"/>
<rect x="442.12" y="244.91" width="8.93" height="8.84" fill="#9aff65"/>
<rect x="450.75" y="244.91" width="8.93" height="8.84" fill="#ff5700"/>
<rect x="459.38" y="244.91" width="8.93" height="8.84" fill="#ffc300"/>
<rect x="468.02" y="244.91" width="8.93" height="8.84" fill="#ffc300"/>
<rect x="476.65" y="244.91" width="8.93" height="8.84" fill="#fff800"/>
<rect x="485.28" y="244.91" width="8.93" height="8.84" fill="#fff800"/>
<rect x="493.91" y="244.91" width="8.93" height="8.84" fill="#fff800"/>
<rect x="502.54" y="244.91" width="8.93" height="8.84" fill="#ffc300"/>
<rect x="511.18" y="244.91" width="8.93" height="8.84" fill="#ff5700"/>
<rect x="519.81" y="244.91" width="8.93" height="8.84" fill="#ffc300"/>
<rect x="528.44" y="244.91" width="8.93" height="8.84" fill="#ffc300"/>
<rect x="537.07" y="244.91" width="8.93" height="8.84" fill="#fff800"/>
<rect x="545.70" y="244.91" width="8.93" height="8.84" fill="#d0ff2f"/>
<rect x="554.34" y="244.91" width="8.93" height="8.84" fill="#9aff65"/>
<rect x="562.97" y="244.91" width="8.93" height="8.84" fill="#00f8ff"/>
<rect x="571.60" y="244.91" width="8.93" height="8.84" fill="#0000eb"/>
<rect x="580.23" y="244.91" width="8.93" height="8.84" fill="#000080"/>
<rect x="588.86" y="244.91" width="8.93" height="8.84" fill="#0057ff"/>
<rect x="597.50" y="244.91" width="8.93" height="8.84" fill="#0057ff"/>
<rect x="606.13" y="244.91" width="8.93" height="8.84" fill="#0022ff"/>
<rect x="614.76" y="244.91" width="8.93" height="8.84" fill="#008dff"/>
<rect x="355.80" y="253.44" width="8.93" height="8.84" fill="#2fffd0"/>
<rect x="364.43" y="253.44" width="8.93" height="8.84" fill="#65ff9a"/>
<rect x="373.06" y="253.44" width="8.93" height="8.84" fill="#fff800"/>
<rect x="381.70" y="253.44" width="8.93" height="8.84" fill="#9aff65"/>
<rect x="390.33" y="253.44" width="8.93" height="8.84" fill="#00c3ff"/>
<rect x="398.96" y="253.44" width="8.93" height="8.84" fill="#65ff9a"/>
<rect x="407.59" y="253.44" width="8.93" height="8.84" fill="#9aff65"/>
<rect x="416.22" y="253.44" width="8.93" height="8.84" fill="#d0ff2f"/>
<rect x="424.86" y="253.44" width="8.93" height="8.84" fill="#65ff9a"/>
<rect x="433.49" y="253.44" width="8.93" height="8.84" fill="#d0ff2f"/>
<rect x="442.12" y="253.44" width="8.93" height="8.84" fill="#9aff65"/>
<rect x="450.75" y="253.44" width="8.93" height="8.84" fill="#ff5700"/>
<rect x="459.38" y="253.44" width="8.93" height="8.84" fill="#ffc300"/>
<rect x="468.02" y="253.44" width="8.93" height="8.84" fill="#ffc300"/>
<rect x="476.65" y="253.44" width="8.93" height="8.84" fill="#fff800"/>
<rect x="485.28" y="253.44" width="8.93" height="8.84" fill="#fff800"/>
<rect x="493.91" y="253.44" width="8.93" height="8.84" fill="#fff800"/>
<rect x="502.54" y="253.44" width="8.93" height="8.84" fill="#ffc300"/>
<rect x="511.18" y="253.44" width="8.93" height="8.84" fill="#ff5700"/>
<rect x="519.81" y="253.44" width="8.93" height="8.84" fill="#ffc300"/>
<rect x="528.44" y="253.44" width="8.93" height="8.84" fill="#ffc300"/>
<rect x="537.07" y="253.44" width="8.93" height="8.84" fill="#ff8d00"/>
<rect x="545.70" y="253.44" width="8.93" height="8.84" fill="#ff5700"/>
<rect x="554.34" y="253.44" width="8.93" height="8.84" fill="#fff800"/>
<rect x="562.97" y="253.44" width="8.93" height="8.84" fill="#d0ff2f"/>
<rect x="571.60" y="253.44" width="8.93" height="8.84" fill="#0057ff"/>
<rect x="580.23" y="253.44" width="8.93" height="8.84" fill="#0057ff"/>
<rect x="588.86" y="253.44" width="8.93" height="8.84" fill="#000080"/>
<rect x="597.50" y="253.44" width="8.93" height="8.84" fill="#0000eb"/>
<rect x="606.13" y="253.44" width="8.93" height="8.84" fill="#0000b5"/>
<rect x="614.76" y="253.44" width="8.93" height="8.84" fill="#0022ff"/>
<rect x="355.80" y="261.98" width="8.93" height="8.84" fill="#2fffd0"/>
<rect x="364.43" y="261.98" width="8.93" height="8.84" fill="#65ff9a"/>
<rect x="373.06" y="261.98" width="8.93" height="8.84" fill="#fff800"/>
<rect x="381.70" y="261.98" width="8.93" height="8.84" fill="#9aff65"/>
<rect x="390.33" y="261.98" width="8.93" height="8.84" fill="#00c3ff"/>
<rect x="398.96" y="261.98" width="8.93" height="8.84" fill="#65ff9a"/>
<rect x="407.59" y="261.98" width="8.93" height="8.84" fill="#9aff65"/>
<rect x="416.22" y="261.98" width="8.93" height="8.84" fill="#65ff9a"/>
<rect x="424.86" y="261.98" width="8.93" height="8.84" fill="#65ff9a"/>
<rect x="433.49" y="261.98" width="8.93" height="8.84" fill="#d0ff2f"/>
<rect x="442.12" y="261.98" width="8.93" height="8.84" fill="#9aff65"/>
<rect x="450.75" y="261.98" width="8.93" height="8.84" fill="#ff5700"/>
<rect x="459.38" y="261.98" width="8.93" height="8.84" fill="#ffc300"/>
<rect x="468.02" y="261.98" width="8.93" height="8.84" fill="#ffc300"/>
<rect x="476.65" y="261.98" width="8.93" height="8.84" fill="#fff800"/>
<rect x="485.28" y="261.98" width="8.93" height="8.84" fill="#fff800"/>
<rect x="493.91" y="261.98" width="8.93" height="8.84" fill="#fff800"/>
<rect x="502.54" y="261.98" width="8.93" height="8.84" fill="#ffc300"/>
<rect x="511.18" y="261.98" width="8.93" height="8.84" fill="#ff5700"/>
<rect x="519.81" y="261.98" width="8.93" height="8.84" fill="#d0ff2f"/>
<rect x="528.44" y="261.98" width="8.93" height="8.84" fill="#d0ff2f"/>
<rect x="537.07" y="261.98" width="8.93" height="8.84" fill="#fff800"/>
<rect x="545.70" y="261.98" width="8.93" height="8.84" fill="#ffc300"/>
<rect x="554.34" y="261.98" width="8.93" height="8.84" fill="#9aff65"/>
<rect x="562.97" y="261.98" width="8.93" height="8.84" fill="#65ff9a"/>
<rect x="571.60" y="261.98" width="8.93" height="8.84" fill="#0000eb"/>
<rect x="580.23" y="261.98" width="8.93" height="8.84" fill="#0057ff"/>
<rect x="588.86" y="261.98" width="8.93" height="8.84" fill="#0000eb"/>
<rect x="597.50" y="261.98" width="8.93" height="8.84" fill="#000080"/>
<rect x="606.13" y="261.98" width="8.93" height="8.84" fill="#0000b5"/>
<rect x="614.76" y="261.98" width="8.93" height="8.84" fill="#0000b5"/>
<rect x="355.80" y="270.51" width="8.93" height="8.84" fill="#00f8ff"/>
<rect x="364.43" y="270.51" width="8.93" height="8.84" fill="#2fffd0"/>
<rect x="373.06" y="270.51" width="8.93" height="8.84" fill="#d0ff2f"/>
<rect x="381.70" y="270.51" width="8.93" height="8.84" fill="#65ff9a"/>
<rect x="390.33" y="270.51" width="8.93" height="8.84" fill="#008dff"/>
<rect x="398.96" y="270.51" width="8.93" height="8.84" fill="#2fffd0"/>
<rect x="407.59" y="270.51" width="8.93" height="8.84" fill="#65ff9a"/>
<rect x="416.22" y="270.51" width="8.93" height="8.84" fill="#9aff65"/>
<rect x="424.86" y="270.51" width="8.93" height="8.84" fill="#2fffd0"/>
<rect x="433.49" y="270.51" width="8.93" height="8.84" fill="#9aff65"/>
<rect x="442.12" y="270.51" width="8.93" height="8.84" fill="#65ff9a"/>
<rect x="450.75" y="270.51" width="8.93" height="8.84" fill="#ff8d00"/>
<rect x="459.38" y="270.51" width="8.93" height="8.84" fill="#fff800"/>
<rect x="468.02" y="270.51" width="8.93" height="8.84" fill="#fff800"/>
<rect x="476.65" y="270.51" width="8.93" height="8.84" fill="#d0ff2f"/>
<rect x="485.28" y="270.51" width="8.93" height="8.84" fill="#d0ff2f"/>
<rect x="493.91" y="270.51" width="8.93" height="8.84" fill="#d0ff2f"/>
<rect x="502.54" y="270.51" width="8.93" height="8.84" fill="#fff800"/>
<rect x="511.18" y="270.51" width="8.93" height="8.84" fill="#ff8d00"/>
<rect x="519.81" y="270.51" width="8.93" height="8.84" fill="#fff800"/>
<rect x="528.44" y="270.51" width="8.93" height="8.84" fill="#fff800"/>
<rect x="537.07" y="270.51" width="8.93" height="8.84" fill="#ffc300"/>
<rect x="545.70" y="270.51" width="8.93" height="8.84" fill="#ff8d00"/>
<rect x="554.34" y="270.51" width="8.93" height="8.84" fill="#d0ff2f"/>
<rect x="562.97" y="270.51" width="8.93" height="8.84" fill="#9aff65"/>
<rect x="571.60" y="270.51" width="8.93" height="8.84" fill="#0022ff"/>
<rect x="580.23" y="270.51" width="8.93" height="8.84" fill="#0022ff"/>
<rect x="588.86" y="270.51" width="8.93" height="8.84" fill="#0000b5"/>
<rect x="597.50" y="270.51" width="8.93" height="8.84" fill="#0000b5"/>
<rect x="606.13" y="270.51" width="8.93" height="8.84" fill="#000080"/>
<rect x="614.76" y="270.51" width="8.93" height="8.84" fill="#0000eb"/>
<rect x="355.80" y="279.05" width="8.93" height="8.84" fill="#65ff9a"/>
<rect x="364.43" y="279.05" width="8.93" height="8.84" fill="#9aff65"/>
<rect x="373.06" y="279.05" width="8.93" height="8.84" fill="#ffc300"/>
<rect x="381.70" y="279.05" width="8.93" height="8.84" fill="#d0ff2f"/>
<rect x="390.33" y="279.05" width="8.93" height="8.84" fill="#00f8ff"/>
<rect x="398.96" y="279.05" width="8.93" height="8.84" fill="#9aff65"/>
<rect x="407.59" y="279.05" width="8.93" height="8.84" fill="#d0ff2f"/>
<rect x="416.22" y="279.05" width="8.93" height="8.84" fill="#9aff65"/>
<rect x="424.86" y="279.05" width="8.93" height="8.84" fill="#9aff65"/>
<rect x="433.49" y="279.05" width="8.93" height="8.84" fill="#fff800"/>
<rect x="442.12" y="279.05" width="8.93" height="8.84" fill="#d0ff2f"/>
<rect x="450.75" y="279.05" width="8.93" height="8.84" fill="#ff2200"/>
<rect x="459.38" y="279.05" width="8.93" height="8.84" fill="#ff8d00"/>
<rect x="468.02" y="279.05" width="8.93" height="8.84" fill="#ff8d00"/>
<rect x="476.65" y="279.05" width="8.93" height="8.84" fill="#ffc300"/>
<rect x="485.28" y="279.05" width="8.93" height="8.84" fill="#ffc300"/>
<rect x="493.91" y="279.05" width="8.93" height="8.84" fill="#ffc300"/>
<rect x="502.54" y="279.05" width="8.93" height="8.84" fill="#ff8d00"/>
<rect x="511.18" y="279.05" width="8.93" height="8.84" fill="#ff2200"/>
<rect x="519.81" y="279.05" width="8.93" height="8.84" fill="#fff800"/>
<rect x="528.44" y="279.05" width="8.93" height="8.84" fill="#fff800"/>
<rect x="537.07" y="279.05" width="8.93" height="8.84" fill="#ffc300"/>
<rect x="545.70" y="279.05" width="8.93" height="8.84" fill="#ff8d00"/>
<rect x="554.34" y="279.05" width="8.93" height="8.84" fill="#d0ff2f"/>
<rect x="562.97" y="279.05" width="8.93" height="8.84" fill="#9aff65"/>
<rect x="571.60" y="279.05" width="8.93" height="8.84" fill="#0022ff"/>
<rect x="580.23" y="279.05" width="8.93" height="8.84" fill="#008dff"/>
<rect x="588.86" y="279.05" width="8.93" height="8.84" fill="#0022ff"/>
<rect x="597.50" y="279.05" width="8.93" height="8.84" fill="#0000b5"/>
<rect x="606.13" y="279.05" width="8.93" height="8.84" fill="#0000eb"/>
<rect x="614.76" y="279.05" width="8.93" height="8.84" fill="#000080"/>
</g>
<text x="350.3" y="27.2" font-size="6.8" font-weight="bold" text-anchor="middle" fill="#111" stroke="#111" stroke-width="0.25">2</text>
<text x="360.5" y="21.2" font-size="6.8" font-weight="bold" text-anchor="middle" fill="#111" stroke="#111" stroke-width="0.25">2</text>
<text x="350.3" y="35.8" font-size="6.8" font-weight="bold" text-anchor="middle" fill="#111" stroke="#111" stroke-width="0.25">3</text>
<text x="369.1" y="21.2" font-size="6.8" font-weight="bold" text-anchor="middle" fill="#111" stroke="#111" stroke-width="0.25">3</text>
<text x="350.3" y="44.4" font-size="6.8" font-weight="bold" text-anchor="middle" fill="#111" stroke="#111" stroke-width="0.25">6</text>
<text x="377.8" y="21.2" font-size="6.8" font-weight="bold" text-anchor="middle" fill="#111" stroke="#111" stroke-width="0.25">6</text>
<text x="350.3" y="52.9" font-size="6.8" font-weight="bold" text-anchor="middle" fill="#111" stroke="#111" stroke-width="0.25">7</text>
<text x="386.4" y="21.2" font-size="6.8" font-weight="bold" text-anchor="middle" fill="#111" stroke="#111" stroke-width="0.25">7</text>
<text x="350.3" y="61.5" font-size="6.8" font-weight="bold" text-anchor="middle" fill="#111" stroke="#111" stroke-width="0.25">10</text>
<text x="395.0" y="21.2" font-size="6.8" font-weight="bold" text-anchor="middle" fill="#111" stroke="#111" stroke-width="0.25">10</text>
<text x="350.3" y="70.1" font-size="6.8" font-weight="bold" text-anchor="middle" fill="#111" stroke="#111" stroke-width="0.25">18</text>
<text x="403.7" y="21.2" font-size="6.8" font-weight="bold" text-anchor="middle" fill="#111" stroke="#111" stroke-width="0.25">18</text>
<text x="350.3" y="78.7" font-size="6.8" font-weight="bold" text-anchor="middle" fill="#111" stroke="#111" stroke-width="0.25">26</text>
<text x="412.3" y="21.2" font-size="6.8" font-weight="bold" text-anchor="middle" fill="#111" stroke="#111" stroke-width="0.25">26</text>
<text x="350.3" y="87.3" font-size="6.8" font-weight="bold" text-anchor="middle" fill="#111" stroke="#111" stroke-width="0.25">21</text>
<text x="420.9" y="21.2" font-size="6.8" font-weight="bold" text-anchor="middle" fill="#111" stroke="#111" stroke-width="0.25">21</text>
<text x="350.3" y="95.9" font-size="6.8" font-weight="bold" text-anchor="middle" fill="#111" stroke="#111" stroke-width="0.25">12</text>
<text x="429.6" y="21.2" font-size="6.8" font-weight="bold" text-anchor="middle" fill="#111" stroke="#111" stroke-width="0.25">12</text>
<text x="350.3" y="104.4" font-size="6.8" font-weight="bold" text-anchor="middle" fill="#111" stroke="#111" stroke-width="0.25">8</text>
<text x="438.2" y="21.2" font-size="6.8" font-weight="bold" text-anchor="middle" fill="#111" stroke="#111" stroke-width="0.25">8</text>
<text x="350.3" y="113.0" font-size="6.8" font-weight="bold" text-anchor="middle" fill="#111" stroke="#111" stroke-width="0.25">11</text>
<text x="446.8" y="21.2" font-size="6.8" font-weight="bold" text-anchor="middle" fill="#111" stroke="#111" stroke-width="0.25">11</text>
<text x="350.3" y="121.6" font-size="6.8" font-weight="bold" text-anchor="middle" fill="#111" stroke="#111" stroke-width="0.25">28</text>
<text x="455.5" y="21.2" font-size="6.8" font-weight="bold" text-anchor="middle" fill="#111" stroke="#111" stroke-width="0.25">28</text>
<text x="350.3" y="130.2" font-size="6.8" font-weight="bold" text-anchor="middle" fill="#111" stroke="#111" stroke-width="0.25">27</text>
<text x="464.1" y="21.2" font-size="6.8" font-weight="bold" text-anchor="middle" fill="#111" stroke="#111" stroke-width="0.25">27</text>
<text x="350.3" y="138.8" font-size="6.8" font-weight="bold" text-anchor="middle" fill="#111" stroke="#111" stroke-width="0.25">16</text>
<text x="472.7" y="21.2" font-size="6.8" font-weight="bold" text-anchor="middle" fill="#111" stroke="#111" stroke-width="0.25">16</text>
<text x="350.3" y="147.4" font-size="6.8" font-weight="bold" text-anchor="middle" fill="#111" stroke="#111" stroke-width="0.25">17</text>
<text x="481.4" y="21.2" font-size="6.8" font-weight="bold" text-anchor="middle" fill="#111" stroke="#111" stroke-width="0.25">17</text>
<text x="350.3" y="155.9" font-size="6.8" font-weight="bold" text-anchor="middle" fill="#111" stroke="#111" stroke-width="0.25">9</text>
<text x="490.0" y="21.2" font-size="6.8" font-weight="bold" text-anchor="middle" fill="#111" stroke="#111" stroke-width="0.25">9</text>
<text x="350.3" y="164.5" font-size="6.8" font-weight="bold" text-anchor="middle" fill="#111" stroke="#111" stroke-width="0.25">1</text>
<text x="498.6" y="21.2" font-size="6.8" font-weight="bold" text-anchor="middle" fill="#111" stroke="#111" stroke-width="0.25">1</text>
<text x="350.3" y="173.1" font-size="6.8" font-weight="bold" text-anchor="middle" fill="#111" stroke="#111" stroke-width="0.25">31</text>
<text x="507.3" y="21.2" font-size="6.8" font-weight="bold" text-anchor="middle" fill="#111" stroke="#111" stroke-width="0.25">31</text>
<text x="350.3" y="181.7" font-size="6.8" font-weight="bold" text-anchor="middle" fill="#111" stroke="#111" stroke-width="0.25">5</text>
<text x="515.9" y="21.2" font-size="6.8" font-weight="bold" text-anchor="middle" fill="#111" stroke="#111" stroke-width="0.25">5</text>
<text x="350.3" y="190.3" font-size="6.8" font-weight="bold" text-anchor="middle" fill="#111" stroke="#111" stroke-width="0.25">4</text>
<text x="524.5" y="21.2" font-size="6.8" font-weight="bold" text-anchor="middle" fill="#111" stroke="#111" stroke-width="0.25">4</text>
<text x="350.3" y="198.9" font-size="6.8" font-weight="bold" text-anchor="middle" fill="#111" stroke="#111" stroke-width="0.25">20</text>
<text x="533.2" y="21.2" font-size="6.8" font-weight="bold" text-anchor="middle" fill="#111" stroke="#111" stroke-width="0.25">20</text>
<text x="350.3" y="207.4" font-size="6.8" font-weight="bold" text-anchor="middle" fill="#111" stroke="#111" stroke-width="0.25">30</text>
<text x="541.8" y="21.2" font-size="6.8" font-weight="bold" text-anchor="middle" fill="#111" stroke="#111" stroke-width="0.25">30</text>
<text x="350.3" y="216.0" font-size="6.8" font-weight="bold" text-anchor="middle" fill="#111" stroke="#111" stroke-width="0.25">29</text>
<text x="550.4" y="21.2" font-size="6.8" font-weight="bold" text-anchor="middle" fill="#111" stroke="#111" stroke-width="0.25">29</text>
<text x="350.3" y="224.6" font-size="6.8" font-weight="bold" text-anchor="middle" fill="#111" stroke="#111" stroke-width="0.25">19</text>
<text x="559.1" y="21.2" font-size="6.8" font-weight="bold" text-anchor="middle" fill="#111" stroke="#111" stroke-width="0.25">19</text>
<text x="350.3" y="233.2" font-size="6.8" font-weight="bold" text-anchor="middle" fill="#111" stroke="#111" stroke-width="0.25">25</text>
<text x="567.7" y="21.2" font-size="6.8" font-weight="bold" text-anchor="middle" fill="#111" stroke="#111" stroke-width="0.25">25</text>
<text x="350.3" y="241.8" font-size="6.8" font-weight="bold" text-anchor="middle" fill="#111" stroke="#111" stroke-width="0.25">13</text>
<text x="576.3" y="21.2" font-size="6.8" font-weight="bold" text-anchor="middle" fill="#111" stroke="#111" stroke-width="0.25">13</text>
<text x="350.3" y="250.4" font-size="6.8" font-weight="bold" text-anchor="middle" fill="#111" stroke="#111" stroke-width="0.25">22</text>
<text x="584.9" y="21.2" font-size="6.8" font-weight="bold" text-anchor="middle" fill="#111" stroke="#111" stroke-width="0.25">22</text>
<text x="350.3" y="258.9" font-size="6.8" font-weight="bold" text-anchor="middle" fill="#111" stroke="#111" stroke-width="0.25">24</text>
<text x="593.6" y="21.2" font-size="6.8" font-weight="bold" text-anchor="middle" fill="#111" stroke="#111" stroke-width="0.25">24</text>
<text x="350.3" y="267.5" font-size="6.8" font-weight="bold" text-anchor="middle" fill="#111" stroke="#111" stroke-width="0.25">15</text>
<text x="602.2" y="21.2" font-size="6.8" font-weight="bold" text-anchor="middle" fill="#111" stroke="#111" stroke-width="0.25">15</text>
<text x="350.3" y="276.1" font-size="6.8" font-weight="bold" text-anchor="middle" fill="#111" stroke="#111" stroke-width="0.25">23</text>
<text x="610.8" y="21.2" font-size="6.8" font-weight="bold" text-anchor="middle" fill="#111" stroke="#111" stroke-width="0.25">23</text>
<text x="350.3" y="284.7" font-size="6.8" font-weight="bold" text-anchor="middle" fill="#111" stroke="#111" stroke-width="0.25">14</text>
<text x="619.5" y="21.2" font-size="6.8" font-weight="bold" text-anchor="middle" fill="#111" stroke="#111" stroke-width="0.25">14</text>
<defs><linearGradient id="jet" x1="0" x2="1" y1="0" y2="0">
<stop offset="0.000" stop-color="#000080"/>
<stop offset="0.025" stop-color="#000099"/>
<stop offset="0.050" stop-color="#0000b2"/>
<stop offset="0.075" stop-color="#0000cc"/>
<stop offset="0.100" stop-color="#0000e6"/>
<stop offset="0.125" stop-color="#0000ff"/>
<stop offset="0.150" stop-color="#001aff"/>
<stop offset="0.175" stop-color="#0033ff"/>
<stop offset="0.200" stop-color="#004dff"/>
<stop offset="0.225" stop-color="#0066ff"/>
<stop offset="0.250" stop-color="#0080ff"/>
<stop offset="0.275" stop-color="#0099ff"/>
<stop offset="0.300" stop-color="#00b2ff"/>
<stop offset="0.325" stop-color="#00ccff"/>
<stop offset="0.350" stop-color="#00e5ff"/>
<stop offset="0.375" stop-color="#00ffff"/>
<stop offset="0.400" stop-color="#1affe5"/>
<stop offset="0.425" stop-color="#33ffcc"/>
<stop offset="0.450" stop-color="#4dffb2"/>
<stop offset="0.475" stop-color="#66ff99"/>
<stop offset="0.500" stop-color="#80ff80"/>
<stop offset="0.525" stop-color="#99ff66"/>
<stop offset="0.550" stop-color="#b3ff4c"/>
<stop offset="0.575" stop-color="#ccff33"/>
<stop offset="0.600" stop-color="#e5ff1a"/>
<stop offset="0.625" stop-color="#ffff00"/>
<stop offset="0.650" stop-color="#ffe500"/>
<stop offset="0.675" stop-color="#ffcc00"/>
<stop offset="0.700" stop-color="#ffb300"/>
<stop offset="0.725" stop-color="#ff9900"/>
<stop offset="0.750" stop-color="#ff8000"/>
<stop offset="0.775" stop-color="#ff6600"/>
<stop offset="0.800" stop-color="#ff4c00"/>
<stop offset="0.825" stop-color="#ff3300"/>
<stop offset="0.850" stop-color="#ff1a00"/>
<stop offset="0.875" stop-color="#ff0000"/>
<stop offset="0.900" stop-color="#e50000"/>
<stop offset="0.925" stop-color="#cc0000"/>
<stop offset="0.950" stop-color="#b30000"/>
<stop offset="0.975" stop-color="#990000"/>
<stop offset="1.000" stop-color="#800000"/>
</linearGradient></defs>
<rect x="355.5" y="292.4" width="268" height="10.2" fill="url(#jet)"/>
<text x="358.8" y="301" font-size="9.4" font-weight="bold" fill="#fff" font-family="Liberation Serif">0</text>
<text x="621.7" y="301" font-size="9.4" font-weight="bold" fill="#fff" text-anchor="end" font-family="Liberation Serif">19</text>
<text x="355.8" y="311.4" font-size="9.9" font-weight="bold" fill="#111" font-family="Liberation Serif">similar</text>
<text x="623.6" y="311.4" font-size="9.9" font-weight="bold" fill="#111" text-anchor="end" font-family="Liberation Serif">different</text>
<text x="487.5" y="318" font-size="9.3" font-weight="bold" fill="#111" text-anchor="middle">Hamming distance</text>
<text x="42.5" y="367.2" font-size="24" fill="#000">C</text>
<rect x="120" y="347" width="459.6" height="205.0" fill="none" stroke="#000" stroke-width="1.7"/>
<path d="M120 529.0h6.4M120 505.9h6.4M120 482.9h6.4M120 459.8h6.4M120 436.8h6.4M120 413.7h6.4M120 390.6h6.4M120 367.6h6.4" stroke="#000" stroke-width="1.5" fill="none"/>
<text x="117.8" y="370.2" font-size="7.6" text-anchor="end" fill="#111">4.0</text>
<text x="117.8" y="416.3" font-size="7.6" text-anchor="end" fill="#111">3.0</text>
<text x="117.8" y="462.4" font-size="7.6" text-anchor="end" fill="#111">2.0</text>
<text x="117.8" y="508.5" font-size="7.6" text-anchor="end" fill="#111">1.0</text>
<text x="117.8" y="554.6" font-size="7.6" text-anchor="end" fill="#111">0</text>
<text transform="translate(100.9 458.8) rotate(-90)" font-size="7.5" text-anchor="middle" fill="#111">Distance</text>
<path d="M126.8 552.0 V542.7 H142.9 V 552.0 M156.2 552.0 V535.1 H172.3 V 552.0 M135 542.7 V515.4 H164 V535.1 M149.8 515.4 V451 H278.8 V472 M198.9 552.0 V542.7 H211.9 V 552.0 M185.6 552.0 V528.2 H205.6 V542.7 M258.4 552.0 V543.3 H273.2 V 552.0 M244.8 552.0 V538.4 H266.3 V543.3 M226.5 552.0 V516.2 H255.4 V538.4 M197.1 528.2 V502.9 H242.8 V516.2 M219.4 502.9 V472 H338.4 V500.6 M302.6 529.5 V500.6 H381.1 V528.2 M288.6 552.0 V529.5 H332.5 V536.1 M320.5 542.2 V536.1 H346.1 V 552.0 M301.3 552.0 V544 H315.9 V 552.0 M308.5 544 V542.2 H330.2 V 552.0 M364.5 552.0 V544 H380.1 V 552.0 M372.4 544 V528.2 H389.5 V 552.0" stroke="#187a18" stroke-width="1.5" fill="none" stroke-linejoin="miter"/>
<path d="M448.5 506.4 V418.6 H516 V525.1 M414.1 517.3 V506.4 H470.7 V519.8 M402.1 552.0 V517.3 H426 V537.7 M415.5 552.0 V537.7 H436.2 V544.8 M428.2 552.0 V544.8 H446.1 V 552.0 M461.9 552.0 V519.8 H477 V 552.0 M497.8 539.8 V525.1 H547.3 V536.3 M491.8 552.0 V539.8 H505.1 V 552.0 M529.4 540.9 V536.3 H563.8 V 552.0 M520.2 552.0 V540.9 H541.7 V543.4 M534.7 552.0 V543.4 H549.1 V 552.0" stroke="#f01414" stroke-width="1.5" fill="none" stroke-linejoin="miter"/>
<path d="M215 451 V356.4 H489.7 V418.6" stroke="#3f7fc4" stroke-width="1.5" fill="none"/>
<path d="M119.2 552.0H580.4" stroke="#000" stroke-width="1.7"/>
<text x="126.8" y="561.2" font-size="7.3" text-anchor="middle" fill="#2b2b9b">2</text>
<text x="138.3" y="561.2" font-size="7.3" text-anchor="middle" fill="#2b2b9b">3</text>
<text x="158.3" y="561.2" font-size="7.3" text-anchor="middle" fill="#2b2b9b">6</text>
<text x="169.8" y="561.2" font-size="7.3" text-anchor="middle" fill="#2b2b9b">7</text>
<text x="183.8" y="561.2" font-size="7.3" text-anchor="middle" fill="#2b2b9b">10</text>
<text x="197.6" y="561.2" font-size="7.3" text-anchor="middle" fill="#2b2b9b">18</text>
<text x="210.7" y="561.2" font-size="7.3" text-anchor="middle" fill="#2b2b9b">26</text>
<text x="227.8" y="561.2" font-size="7.3" text-anchor="middle" fill="#2b2b9b">21</text>
<text x="244.2" y="561.2" font-size="7.3" text-anchor="middle" fill="#2b2b9b">12</text>
<text x="259.9" y="561.2" font-size="7.3" text-anchor="middle" fill="#2b2b9b">8</text>
<text x="274" y="561.2" font-size="7.3" text-anchor="middle" fill="#2b2b9b">11</text>
<text x="288" y="561.2" font-size="7.3" text-anchor="middle" fill="#2b2b9b">28</text>
<text x="301.6" y="561.2" font-size="7.3" text-anchor="middle" fill="#2b2b9b">27</text>
<text x="316.2" y="561.2" font-size="7.3" text-anchor="middle" fill="#2b2b9b">16</text>
<text x="330.7" y="561.2" font-size="7.3" text-anchor="middle" fill="#2b2b9b">17</text>
<text x="346.8" y="561.2" font-size="7.3" text-anchor="middle" fill="#2b2b9b">9</text>
<text x="364.5" y="561.2" font-size="7.3" text-anchor="middle" fill="#2b2b9b">1</text>
<text x="378" y="561.2" font-size="7.3" text-anchor="middle" fill="#2b2b9b">31</text>
<text x="389.5" y="561.2" font-size="7.3" text-anchor="middle" fill="#2b2b9b">5</text>
<text x="402.8" y="561.2" font-size="7.3" text-anchor="middle" fill="#2b2b9b">4</text>
<text x="416.6" y="561.2" font-size="7.3" text-anchor="middle" fill="#2b2b9b">20</text>
<text x="428.2" y="561.2" font-size="7.3" text-anchor="middle" fill="#2b2b9b">30</text>
<text x="446.1" y="561.2" font-size="7.3" text-anchor="middle" fill="#2b2b9b">29</text>
<text x="461.5" y="561.2" font-size="7.3" text-anchor="middle" fill="#2b2b9b">19</text>
<text x="477.4" y="561.2" font-size="7.3" text-anchor="middle" fill="#2b2b9b">25</text>
<text x="491.1" y="561.2" font-size="7.3" text-anchor="middle" fill="#2b2b9b">13</text>
<text x="504.8" y="561.2" font-size="7.3" text-anchor="middle" fill="#2b2b9b">22</text>
<text x="522" y="561.2" font-size="7.3" text-anchor="middle" fill="#2b2b9b">24</text>
<text x="534.7" y="561.2" font-size="7.3" text-anchor="middle" fill="#2b2b9b">15</text>
<text x="548" y="561.2" font-size="7.3" text-anchor="middle" fill="#2b2b9b">23</text>
<text x="563.8" y="561.2" font-size="7.3" text-anchor="middle" fill="#2b2b9b">14</text>
<path d="M191.4 557V621M218.4 557V621M235 557V621M253.9 557V617M281.5 557V621M338.8 557V624M358.3 557V622M396.1 557V624M435.5 557V624M463.2 565V624M512.3 557V624M575.6 557V624" stroke="#4a7ebb" stroke-width="1" stroke-dasharray="3.2 2.2" fill="none"/>
<rect x="117.9" y="574.1" width="71.4" height="14.5" fill="#ffff00" stroke="#9a9a88" stroke-width="0.8"/>
<rect x="190.1" y="574.1" width="28.3" height="14.5" fill="#f79646" stroke="#c88a50" stroke-width="0.8"/>
<rect x="219.6" y="574.1" width="14.1" height="14.5" fill="#0000ff" stroke="#3030c0" stroke-width="0.8"/>
<rect x="237.9" y="574.1" width="13.7" height="14.5" fill="#b3a2c7" stroke="#8c80a0" stroke-width="0.8"/>
<rect x="255.7" y="574.1" width="81.0" height="14.5" fill="#f79646" stroke="#c88a50" stroke-width="0.8"/>
<rect x="340" y="574.1" width="14.5" height="14.5" fill="#b3a2c7" stroke="#8c80a0" stroke-width="0.8"/>
<rect x="360.8" y="574.1" width="34.4" height="14.5" fill="#d3dfbb" stroke="#9aa588" stroke-width="0.8"/>
<rect x="398.6" y="572.8" width="86.7" height="15.8" fill="#0000ff" stroke="#3030c0" stroke-width="0.8"/>
<rect x="486.2" y="574.1" width="87.2" height="14.5" fill="#ffff00" stroke="#9a9a88" stroke-width="0.8"/>
<rect x="438.4" y="594.9" width="21.2" height="15.3" fill="#008000" stroke="#406040" stroke-width="0.8"/>
<rect x="465.8" y="594.9" width="44.5" height="15.3" fill="#ff0000" stroke="#c04040" stroke-width="0.8"/>
<rect x="514.4" y="594.9" width="59.0" height="16.1" fill="#00ffff" stroke="#60b0b0" stroke-width="0.8"/>
<path d="M281.5 573V590" stroke="#4a7ebb" stroke-width="1" stroke-dasharray="3.2 2.2" fill="none"/>
<text x="153.6" y="584.2" font-size="7.2" text-anchor="middle" fill="#111" >Floral meristem</text>
<text x="204.3" y="584.2" font-size="7.2" text-anchor="middle" fill="#333" >Sepal</text>
<text x="244.8" y="584.2" font-size="7.2" text-anchor="middle" fill="#333" >Ad</text>
<text x="271.5" y="584.2" font-size="7.2" text-anchor="middle" fill="#333" >Sepal</text>
<text x="347.3" y="584.2" font-size="7.2" text-anchor="middle" fill="#333" >Ab</text>
<text x="378" y="584.2" font-size="7.2" text-anchor="middle" fill="#333" >Bract</text>
<text x="403" y="583.6" font-size="7.2" text-anchor="start" fill="#f4f080" >Boundary</text>
<text x="539.5" y="584.2" font-size="7.2" text-anchor="middle" fill="#111" >Floral meristem</text>
<text x="449" y="605.2" font-size="7.2" text-anchor="middle" fill="#f0f040" >Pe</text>
<text x="488" y="605.2" font-size="7.2" text-anchor="middle" fill="#f0f040" >Stamen</text>
<text x="544" y="605.2" font-size="7.2" text-anchor="middle" fill="#1a1a90" >Carpel</text>
<text x="204.8" y="602.9" font-size="7.2" text-anchor="middle" fill="#222" >Adaxial</text>
<text x="267.7" y="602.5" font-size="7.2" text-anchor="middle" fill="#222" >Initium</text>
<text x="308.6" y="602.9" font-size="7.2" text-anchor="middle" fill="#222" >Abaxial</text>
<text x="173.5" y="645.0" font-size="7.2" text-anchor="middle" fill="#222" >Sepal boundary L2</text>
<text x="297.3" y="645.0" font-size="7.2" text-anchor="middle" fill="#222" >Ab/ad flower primordium</text>
<text x="494.7" y="642.6" font-size="7.2" text-anchor="middle" fill="#222" >Petal, Stamen and Carpel precusors</text>
<path d="M207.1 643H226.7V602M244.1 602V642.2H250.3M342.9 642.2H351.2V602" stroke="#4a7ebb" stroke-width="1.5" fill="none"/>
<path d="M449.2 614.4V631M482.4 614.4V631M537.3 614.4V631" stroke="#4a7ebb" stroke-width="1.3" fill="none"/>
<text x="36.5" y="677" font-size="26" fill="#000">D</text>
<path d="M237.5 802.7L284.3 721.4" stroke="#a9bbd9" stroke-width="1.3" fill="none" stroke-dasharray="2.6 1.6"/>
<path d="M279.7 724.1L284.3 721.4L284.4 726.8" stroke="#a9bbd9" stroke-width="1.3" fill="none" stroke-linecap="round" stroke-linejoin="miter"/>
<path d="M245.4 805.1L279.6 787.6" stroke="#a9bbd9" stroke-width="1.9" fill="none" stroke-dasharray="3.4 2.2"/>
<path d="M274.2 787.3L279.6 787.6L276.7 792.1" stroke="#a9bbd9" stroke-width="1.9" fill="none" stroke-linecap="round" stroke-linejoin="miter"/>
<path d="M248.7 810.9L278.9 817.0" stroke="#a9bbd9" stroke-width="1.9" fill="none" stroke-dasharray="3.4 2.2"/>
<path d="M274.9 813.4L278.9 817.0L273.9 818.7" stroke="#a9bbd9" stroke-width="1.9" fill="none" stroke-linecap="round" stroke-linejoin="miter"/>
<path d="M303.7 715.2L351.7 700.8" stroke="#a9bbd9" stroke-width="1.9" fill="none" stroke-dasharray="3.4 2.2"/>
<path d="M346.5 699.6L351.7 700.8L348.1 704.7" stroke="#a9bbd9" stroke-width="1.9" fill="none" stroke-linecap="round" stroke-linejoin="miter"/>
<path d="M300.4 721.0L351.8 754.1" stroke="#a9bbd9" stroke-width="1.9" fill="none" stroke-dasharray="3.4 2.2"/>
<path d="M349.4 749.4L351.8 754.1L346.4 753.9" stroke="#a9bbd9" stroke-width="1.9" fill="none" stroke-linecap="round" stroke-linejoin="miter"/>
<path d="M300.7 748.7L348.5 706.8" stroke="#a9bbd9" stroke-width="1.9" fill="none" stroke-dasharray="3.4 2.2"/>
<path d="M343.3 707.8L348.5 706.8L346.8 711.9" stroke="#a9bbd9" stroke-width="1.9" fill="none" stroke-linecap="round" stroke-linejoin="miter"/>
<path d="M298.7 839.8L352.0 712.8" stroke="#a9bbd9" stroke-width="1.3" fill="none" stroke-dasharray="2.6 1.6"/>
<path d="M347.7 716.0L352.0 712.8L352.7 718.0" stroke="#a9bbd9" stroke-width="1.3" fill="none" stroke-linecap="round" stroke-linejoin="miter"/>
<path d="M298.7 851.4L352.7 883.5" stroke="#a9bbd9" stroke-width="1.9" fill="none" stroke-dasharray="3.4 2.2"/>
<path d="M350.1 878.9L352.7 883.5L347.3 883.5" stroke="#a9bbd9" stroke-width="1.9" fill="none" stroke-linecap="round" stroke-linejoin="miter"/>
<path d="M371.3 760.2L424.0 754.2" stroke="#a9bbd9" stroke-width="1.9" fill="none" stroke-dasharray="3.4 2.2"/>
<path d="M419.1 752.0L424.0 754.2L419.7 757.4" stroke="#a9bbd9" stroke-width="1.9" fill="none" stroke-linecap="round" stroke-linejoin="miter"/>
<path d="M370.8 782.5L427.3 760.1" stroke="#a9bbd9" stroke-width="1.9" fill="none" stroke-dasharray="3.4 2.2"/>
<path d="M422.0 759.3L427.3 760.1L424.0 764.3" stroke="#a9bbd9" stroke-width="1.9" fill="none" stroke-linecap="round" stroke-linejoin="miter"/>
<path d="M370.8 782.5L423.6 775.6" stroke="#a9bbd9" stroke-width="1.9" fill="none" stroke-dasharray="3.4 2.2"/>
<path d="M418.7 773.5L423.6 775.6L419.4 778.8" stroke="#a9bbd9" stroke-width="1.9" fill="none" stroke-linecap="round" stroke-linejoin="miter"/>
<path d="M195.6 715.9L229.2 715.7" stroke="#4a7ab5" stroke-width="1.5" fill="none"/>
<path d="M224.6 713.0L229.2 715.7L224.6 718.4" stroke="#4a7ab5" stroke-width="1.5" fill="none" stroke-linecap="round" stroke-linejoin="miter"/>
<path d="M252.1 715.7L280.8 715.2" stroke="#4a7ab5" stroke-width="1.5" fill="none"/>
<path d="M276.2 712.6L280.8 715.2L276.2 718.0" stroke="#4a7ab5" stroke-width="1.5" fill="none" stroke-linecap="round" stroke-linejoin="miter"/>
<path d="M195.3 767.6L230.0 761.8" stroke="#4a7ab5" stroke-width="1.5" fill="none"/>
<path d="M225.0 759.9L230.0 761.8L225.9 765.2" stroke="#4a7ab5" stroke-width="1.5" fill="none" stroke-linecap="round" stroke-linejoin="miter"/>
<path d="M194.4 795.8L229.1 805.0" stroke="#4a7ab5" stroke-width="1.5" fill="none"/>
<path d="M225.3 801.2L229.1 805.0L224.0 806.4" stroke="#4a7ab5" stroke-width="1.5" fill="none" stroke-linecap="round" stroke-linejoin="miter"/>
<path d="M194.4 821.9L225.8 811.1" stroke="#4a7ab5" stroke-width="1.5" fill="none"/>
<path d="M220.6 810.0L225.8 811.1L222.4 815.1" stroke="#4a7ab5" stroke-width="1.5" fill="none" stroke-linecap="round" stroke-linejoin="miter"/>
<path d="M245.4 805.1L284.6 760.7" stroke="#4a7ab5" stroke-width="1.5" fill="none"/>
<path d="M279.5 762.3L284.6 760.7L283.5 765.9" stroke="#4a7ab5" stroke-width="1.5" fill="none" stroke-linecap="round" stroke-linejoin="miter"/>
<path d="M245.4 816.7L282.5 839.5" stroke="#4a7ab5" stroke-width="1.5" fill="none"/>
<path d="M280.0 834.8L282.5 839.5L277.1 839.4" stroke="#4a7ab5" stroke-width="1.5" fill="none" stroke-linecap="round" stroke-linejoin="miter"/>
<path d="M292.5 723.4L351.5 803.4" stroke="#4a7ab5" stroke-width="1.5" fill="none"/>
<path d="M350.9 798.1L351.5 803.4L346.6 801.3" stroke="#4a7ab5" stroke-width="1.5" fill="none" stroke-linecap="round" stroke-linejoin="miter"/>
<path d="M304.0 754.5L348.5 731.6" stroke="#4a7ab5" stroke-width="1.5" fill="none"/>
<path d="M343.1 731.3L348.5 731.6L345.6 736.1" stroke="#4a7ab5" stroke-width="1.5" fill="none" stroke-linecap="round" stroke-linejoin="miter"/>
<path d="M300.7 760.3L347.9 782.3" stroke="#4a7ab5" stroke-width="1.5" fill="none"/>
<path d="M344.9 777.9L347.9 782.3L342.6 782.8" stroke="#4a7ab5" stroke-width="1.5" fill="none" stroke-linecap="round" stroke-linejoin="miter"/>
<path d="M299.1 781.6L351.8 737.5" stroke="#4a7ab5" stroke-width="1.5" fill="none"/>
<path d="M346.5 738.4L351.8 737.5L350.0 742.5" stroke="#4a7ab5" stroke-width="1.5" fill="none" stroke-linecap="round" stroke-linejoin="miter"/>
<path d="M298.5 811.3L351.8 766.3" stroke="#4a7ab5" stroke-width="1.5" fill="none"/>
<path d="M346.5 767.2L351.8 766.3L350.0 771.4" stroke="#4a7ab5" stroke-width="1.5" fill="none" stroke-linecap="round" stroke-linejoin="miter"/>
<path d="M301.8 817.1L351.2 788.5" stroke="#4a7ab5" stroke-width="1.5" fill="none"/>
<path d="M345.9 788.5L351.2 788.5L348.6 793.2" stroke="#4a7ab5" stroke-width="1.5" fill="none" stroke-linecap="round" stroke-linejoin="miter"/>
<path d="M298.7 839.8L348.1 809.9" stroke="#4a7ab5" stroke-width="1.5" fill="none"/>
<path d="M342.7 809.9L348.1 809.9L345.5 814.6" stroke="#4a7ab5" stroke-width="1.5" fill="none" stroke-linecap="round" stroke-linejoin="miter"/>
<path d="M302.0 845.6L348.5 835.4" stroke="#4a7ab5" stroke-width="1.5" fill="none"/>
<path d="M343.4 833.8L348.5 835.4L344.6 839.0" stroke="#4a7ab5" stroke-width="1.5" fill="none" stroke-linecap="round" stroke-linejoin="miter"/>
<path d="M302.0 845.6L348.5 859.5" stroke="#4a7ab5" stroke-width="1.5" fill="none"/>
<path d="M344.9 855.6L348.5 859.5L343.3 860.7" stroke="#4a7ab5" stroke-width="1.5" fill="none" stroke-linecap="round" stroke-linejoin="miter"/>
<path d="M371.3 706.5L424.0 689.9" stroke="#4a7ab5" stroke-width="1.5" fill="none"/>
<path d="M418.8 688.8L424.0 689.9L420.4 693.9" stroke="#4a7ab5" stroke-width="1.5" fill="none" stroke-linecap="round" stroke-linejoin="miter"/>
<path d="M368.0 725.6L424.0 710.7" stroke="#4a7ab5" stroke-width="1.5" fill="none"/>
<path d="M418.9 709.3L424.0 710.7L420.3 714.5" stroke="#4a7ab5" stroke-width="1.5" fill="none" stroke-linecap="round" stroke-linejoin="miter"/>
<path d="M371.3 731.4L424.0 732.8" stroke="#4a7ab5" stroke-width="1.5" fill="none"/>
<path d="M419.5 730.0L424.0 732.8L419.3 735.4" stroke="#4a7ab5" stroke-width="1.5" fill="none" stroke-linecap="round" stroke-linejoin="miter"/>
<path d="M368.0 754.4L427.4 716.7" stroke="#4a7ab5" stroke-width="1.5" fill="none"/>
<path d="M422.0 716.9L427.4 716.7L424.9 721.4" stroke="#4a7ab5" stroke-width="1.5" fill="none" stroke-linecap="round" stroke-linejoin="miter"/>
<path d="M367.5 776.7L427.4 738.9" stroke="#4a7ab5" stroke-width="1.5" fill="none"/>
<path d="M422.0 739.0L427.4 738.9L424.9 743.6" stroke="#4a7ab5" stroke-width="1.5" fill="none" stroke-linecap="round" stroke-linejoin="miter"/>
<path d="M367.6 803.8L422.6 795.8" stroke="#4a7ab5" stroke-width="1.5" fill="none"/>
<path d="M417.7 793.8L422.6 795.8L418.4 799.1" stroke="#4a7ab5" stroke-width="1.5" fill="none" stroke-linecap="round" stroke-linejoin="miter"/>
<path d="M367.6 815.4L422.6 816.5" stroke="#4a7ab5" stroke-width="1.5" fill="none"/>
<path d="M418.1 813.7L422.6 816.5L417.9 819.1" stroke="#4a7ab5" stroke-width="1.5" fill="none" stroke-linecap="round" stroke-linejoin="miter"/>
<path d="M371.4 835.3L422.7 836.3" stroke="#4a7ab5" stroke-width="1.5" fill="none"/>
<path d="M418.2 833.5L422.7 836.3L418.0 838.9" stroke="#4a7ab5" stroke-width="1.5" fill="none" stroke-linecap="round" stroke-linejoin="miter"/>
<path d="M368.1 841.1L426.5 851.0" stroke="#4a7ab5" stroke-width="1.5" fill="none"/>
<path d="M422.4 847.6L426.5 851.0L421.5 852.9" stroke="#4a7ab5" stroke-width="1.5" fill="none" stroke-linecap="round" stroke-linejoin="miter"/>
<path d="M371.4 859.6L423.2 856.9" stroke="#4a7ab5" stroke-width="1.5" fill="none"/>
<path d="M418.5 854.5L423.2 856.9L418.7 859.9" stroke="#4a7ab5" stroke-width="1.5" fill="none" stroke-linecap="round" stroke-linejoin="miter"/>
<path d="M368.1 865.4L422.9 876.9" stroke="#4a7ab5" stroke-width="1.5" fill="none"/>
<path d="M419.0 873.3L422.9 876.9L417.9 878.6" stroke="#4a7ab5" stroke-width="1.5" fill="none" stroke-linecap="round" stroke-linejoin="miter"/>
<path d="M372.2 889.6L422.8 896.7" stroke="#4a7ab5" stroke-width="1.5" fill="none"/>
<path d="M418.6 893.4L422.8 896.7L417.9 898.8" stroke="#4a7ab5" stroke-width="1.5" fill="none" stroke-linecap="round" stroke-linejoin="miter"/>
<path d="M195.3 743.0L230.0 750.0" stroke="#f51414" stroke-width="1.5" fill="none"/>
<path d="M226.0 746.4L230.0 750.0L224.9 751.7" stroke="#f51414" stroke-width="1.5" fill="none" stroke-linecap="round" stroke-linejoin="miter"/>
<path d="M191.1 790.0L238.0 764.3" stroke="#f51414" stroke-width="1.5" fill="none"/>
<path d="M232.6 764.2L238.0 764.3L235.2 768.9" stroke="#f51414" stroke-width="1.5" fill="none" stroke-linecap="round" stroke-linejoin="miter"/>
<path d="M249.6 755.9L281.1 754.5" stroke="#f51414" stroke-width="1.5" fill="none"/>
<path d="M276.4 752.0L281.1 754.5L276.6 757.4" stroke="#f51414" stroke-width="1.5" fill="none" stroke-linecap="round" stroke-linejoin="miter"/>
<path d="M290.6 808.9L359.7 740.0" stroke="#f51414" stroke-width="1.5" fill="none"/>
<path d="M354.6 741.3L359.7 740.0L358.4 745.1" stroke="#f51414" stroke-width="1.5" fill="none" stroke-linecap="round" stroke-linejoin="miter"/>
<defs>
<clipPath id="c19"><ellipse cx="359.7" cy="809.6" rx="11.2" ry="8.2"/></clipPath>
<clipPath id="c13"><ellipse cx="360.2" cy="835.3" rx="11.2" ry="8.2"/></clipPath>
<clipPath id="c15"><ellipse cx="360.2" cy="859.6" rx="11.2" ry="8.2"/></clipPath>
<clipPath id="c14m"><ellipse cx="361.0" cy="889.6" rx="11.2" ry="8.2"/></clipPath>
<clipPath id="c29"><ellipse cx="434.3" cy="795.7" rx="11.2" ry="8.2"/></clipPath>
<clipPath id="c25"><ellipse cx="434.3" cy="816.5" rx="11.2" ry="8.2"/></clipPath>
<clipPath id="c22"><ellipse cx="434.4" cy="836.3" rx="11.2" ry="8.2"/></clipPath>
<clipPath id="c24"><ellipse cx="434.9" cy="856.9" rx="11.2" ry="8.2"/></clipPath>
<clipPath id="c23"><ellipse cx="434.6" cy="877.0" rx="11.2" ry="8.2"/></clipPath>
<clipPath id="c14r"><ellipse cx="434.5" cy="896.8" rx="11.2" ry="8.2"/></clipPath>
</defs>
<ellipse cx="184.9" cy="716.9" rx="11.5" ry="8.5" fill="#000" opacity="0.14"/>
<ellipse cx="184.4" cy="715.9" rx="11.2" ry="8.2" fill="#0000ff" stroke="#2a3ac0" stroke-width="0.9"/>
<text x="184.4" y="718.8" font-size="8.3" text-anchor="middle" fill="#f6f23c" stroke="#f6f23c" stroke-width="0.2">4</text>
<ellipse cx="184.6" cy="744.0" rx="11.5" ry="8.5" fill="#000" opacity="0.14"/>
<ellipse cx="184.1" cy="743.0" rx="11.2" ry="8.2" fill="#d3dfbb" stroke="#6d8fb8" stroke-width="0.9"/>
<text x="184.1" y="745.9" font-size="8.3" text-anchor="middle" fill="#3030c8" stroke="#3030c8" stroke-width="0.2">31</text>
<ellipse cx="184.6" cy="768.6" rx="11.5" ry="8.5" fill="#000" opacity="0.14"/>
<ellipse cx="184.1" cy="767.6" rx="11.2" ry="8.2" fill="#d3dfbb" stroke="#6d8fb8" stroke-width="0.9"/>
<text x="184.1" y="770.5" font-size="8.3" text-anchor="middle" fill="#3030c8" stroke="#3030c8" stroke-width="0.2">1</text>
<ellipse cx="183.7" cy="796.8" rx="11.5" ry="8.5" fill="#000" opacity="0.14"/>
<ellipse cx="183.2" cy="795.8" rx="11.2" ry="8.2" fill="#ffff00" stroke="#7f9a70" stroke-width="0.9"/>
<text x="183.2" y="798.7" font-size="8.3" text-anchor="middle" fill="#1c1c9c" stroke="#1c1c9c" stroke-width="0.2">2</text>
<ellipse cx="183.7" cy="822.9" rx="11.5" ry="8.5" fill="#000" opacity="0.14"/>
<ellipse cx="183.2" cy="821.9" rx="11.2" ry="8.2" fill="#ffff00" stroke="#7f9a70" stroke-width="0.9"/>
<text x="183.2" y="824.8" font-size="8.3" text-anchor="middle" fill="#1c1c9c" stroke="#1c1c9c" stroke-width="0.2">3</text>
<ellipse cx="241.4" cy="716.7" rx="11.5" ry="8.5" fill="#000" opacity="0.14"/>
<ellipse cx="240.9" cy="715.7" rx="11.2" ry="8.2" fill="#0000ff" stroke="#2a3ac0" stroke-width="0.9"/>
<text x="240.9" y="718.6" font-size="8.3" text-anchor="middle" fill="#f6f23c" stroke="#f6f23c" stroke-width="0.2">4</text>
<ellipse cx="238.9" cy="756.9" rx="11.5" ry="8.5" fill="#000" opacity="0.14"/>
<ellipse cx="238.4" cy="755.9" rx="11.2" ry="8.2" fill="#d3dfbb" stroke="#6d8fb8" stroke-width="0.9"/>
<text x="238.4" y="758.8" font-size="8.3" text-anchor="middle" fill="#3030c8" stroke="#3030c8" stroke-width="0.2">5</text>
<ellipse cx="238.0" cy="811.9" rx="11.5" ry="8.5" fill="#000" opacity="0.14"/>
<ellipse cx="237.5" cy="810.9" rx="11.2" ry="8.2" fill="#ffff00" stroke="#7f9a70" stroke-width="0.9"/>
<text x="237.5" y="813.8" font-size="8.3" text-anchor="middle" fill="#1c1c9c" stroke="#1c1c9c" stroke-width="0.2">7</text>
<ellipse cx="293.0" cy="716.2" rx="11.5" ry="8.5" fill="#000" opacity="0.14"/>
<ellipse cx="292.5" cy="715.2" rx="11.2" ry="8.2" fill="#b3a2c7" stroke="#8a86a8" stroke-width="0.9"/>
<text x="292.5" y="718.1" font-size="8.3" text-anchor="middle" fill="#fbf530" stroke="#fbf530" stroke-width="0.2">12</text>
<ellipse cx="293.3" cy="755.5" rx="11.5" ry="8.5" fill="#000" opacity="0.14"/>
<ellipse cx="292.8" cy="754.5" rx="11.2" ry="8.2" fill="#b3a2c7" stroke="#8a86a8" stroke-width="0.9"/>
<text x="292.8" y="757.4" font-size="8.3" text-anchor="middle" fill="#fbf530" stroke="#fbf530" stroke-width="0.2">9</text>
<ellipse cx="291.7" cy="788.4" rx="11.5" ry="8.5" fill="#000" opacity="0.14"/>
<ellipse cx="291.2" cy="787.4" rx="11.2" ry="8.2" fill="#f79646" stroke="#c8905a" stroke-width="0.9"/>
<text x="291.2" y="790.3" font-size="8.3" text-anchor="middle" fill="#fdf52c" stroke="#fdf52c" stroke-width="0.2">11</text>
<ellipse cx="291.1" cy="818.1" rx="11.5" ry="8.5" fill="#000" opacity="0.14"/>
<ellipse cx="290.6" cy="817.1" rx="11.2" ry="8.2" fill="#f79646" stroke="#c8905a" stroke-width="0.9"/>
<text x="290.6" y="820.0" font-size="8.3" text-anchor="middle" fill="#fdf52c" stroke="#fdf52c" stroke-width="0.2">8</text>
<ellipse cx="291.3" cy="846.6" rx="11.5" ry="8.5" fill="#000" opacity="0.14"/>
<ellipse cx="290.8" cy="845.6" rx="11.2" ry="8.2" fill="#ffff00" stroke="#7f9a70" stroke-width="0.9"/>
<text x="290.8" y="848.5" font-size="8.3" text-anchor="middle" fill="#1c1c9c" stroke="#1c1c9c" stroke-width="0.2">10</text>
<ellipse cx="360.6" cy="707.5" rx="11.5" ry="8.5" fill="#000" opacity="0.14"/>
<ellipse cx="360.1" cy="706.5" rx="11.2" ry="8.2" fill="#0000ff" stroke="#2a3ac0" stroke-width="0.9"/>
<text x="360.1" y="709.4" font-size="8.3" text-anchor="middle" fill="#f6f23c" stroke="#f6f23c" stroke-width="0.2">20</text>
<ellipse cx="360.6" cy="732.4" rx="11.5" ry="8.5" fill="#000" opacity="0.14"/>
<ellipse cx="360.1" cy="731.4" rx="11.2" ry="8.2" fill="#f79646" stroke="#c8905a" stroke-width="0.9"/>
<text x="360.1" y="734.3" font-size="8.3" text-anchor="middle" fill="#fdf52c" stroke="#fdf52c" stroke-width="0.2">17</text>
<ellipse cx="360.6" cy="761.2" rx="11.5" ry="8.5" fill="#000" opacity="0.14"/>
<ellipse cx="360.1" cy="760.2" rx="11.2" ry="8.2" fill="#f79646" stroke="#c8905a" stroke-width="0.9"/>
<text x="360.1" y="763.1" font-size="8.3" text-anchor="middle" fill="#fdf52c" stroke="#fdf52c" stroke-width="0.2">18</text>
<ellipse cx="360.1" cy="783.5" rx="11.5" ry="8.5" fill="#000" opacity="0.14"/>
<ellipse cx="359.6" cy="782.5" rx="11.2" ry="8.2" fill="#f79646" stroke="#c8905a" stroke-width="0.9"/>
<text x="359.6" y="785.4" font-size="8.3" text-anchor="middle" fill="#fdf52c" stroke="#fdf52c" stroke-width="0.2">16</text>
<ellipse cx="360.2" cy="810.6" rx="11.5" ry="8.5" fill="#000" opacity="0.14"/>
<g clip-path="url(#c19)"><rect x="347.7" y="799.6" width="24" height="20" fill="#0000ff"/><path d="M359.7 809.6L357.2 799.6H372.7V809.1Z" fill="#008000"/><path d="M359.7 809.6L372.7 809.1V819.6H355.5Z" fill="#ff0000"/></g>
<ellipse cx="359.7" cy="809.6" rx="11.2" ry="8.2" fill="none" stroke="#3f5f80" stroke-width="0.9"/>
<text x="359.7" y="812.5" font-size="8.3" text-anchor="middle" fill="#fbf530" stroke="#fbf530" stroke-width="0.2">19</text>
<ellipse cx="360.7" cy="836.3" rx="11.5" ry="8.5" fill="#000" opacity="0.14"/>
<g clip-path="url(#c13)"><rect x="348.2" y="825.3" width="24" height="10.3" fill="#ffff00"/><rect x="348.2" y="835.5999999999999" width="24" height="10" fill="#ff0000"/></g>
<ellipse cx="360.2" cy="835.3" rx="11.2" ry="8.2" fill="none" stroke="#5f86a8" stroke-width="0.9"/>
<text x="360.2" y="838.2" font-size="8.3" text-anchor="middle" fill="#222" stroke="#222" stroke-width="0.2">13</text>
<ellipse cx="360.7" cy="860.6" rx="11.5" ry="8.5" fill="#000" opacity="0.14"/>
<g clip-path="url(#c15)"><rect x="348.2" y="849.6" width="24" height="10.3" fill="#ffff00"/><rect x="348.2" y="859.9" width="24" height="10" fill="#00ffff"/></g>
<ellipse cx="360.2" cy="859.6" rx="11.2" ry="8.2" fill="none" stroke="#5f86a8" stroke-width="0.9"/>
<text x="360.2" y="862.5" font-size="8.3" text-anchor="middle" fill="#1c1c9c" stroke="#1c1c9c" stroke-width="0.2">15</text>
<ellipse cx="361.5" cy="890.6" rx="11.5" ry="8.5" fill="#000" opacity="0.14"/>
<g clip-path="url(#c14m)"><rect x="349.0" y="879.6" width="24" height="10.3" fill="#ffff00"/><rect x="349.0" y="889.9" width="24" height="10" fill="#00ffff"/></g>
<ellipse cx="361.0" cy="889.6" rx="11.2" ry="8.2" fill="none" stroke="#5f86a8" stroke-width="0.9"/>
<text x="361.0" y="892.5" font-size="8.3" text-anchor="middle" fill="#1c1c9c" stroke="#1c1c9c" stroke-width="0.2">14</text>
<ellipse cx="436.2" cy="690.8" rx="11.5" ry="8.5" fill="#000" opacity="0.14"/>
<ellipse cx="435.7" cy="689.8" rx="11.2" ry="8.2" fill="#0000ff" stroke="#2a3ac0" stroke-width="0.9"/>
<text x="435.7" y="692.7" font-size="8.3" text-anchor="middle" fill="#f6f23c" stroke="#f6f23c" stroke-width="0.2">30</text>
<ellipse cx="436.2" cy="711.6" rx="11.5" ry="8.5" fill="#000" opacity="0.14"/>
<ellipse cx="435.7" cy="710.6" rx="11.2" ry="8.2" fill="#f79646" stroke="#c8905a" stroke-width="0.9"/>
<text x="435.7" y="713.5" font-size="8.3" text-anchor="middle" fill="#fdf52c" stroke="#fdf52c" stroke-width="0.2">18</text>
<ellipse cx="436.2" cy="733.8" rx="11.5" ry="8.5" fill="#000" opacity="0.14"/>
<ellipse cx="435.7" cy="732.8" rx="11.2" ry="8.2" fill="#f79646" stroke="#c8905a" stroke-width="0.9"/>
<text x="435.7" y="735.7" font-size="8.3" text-anchor="middle" fill="#fdf52c" stroke="#fdf52c" stroke-width="0.2">27</text>
<ellipse cx="436.2" cy="755.1" rx="11.5" ry="8.5" fill="#000" opacity="0.14"/>
<ellipse cx="435.7" cy="754.1" rx="11.2" ry="8.2" fill="#f79646" stroke="#c8905a" stroke-width="0.9"/>
<text x="435.7" y="757.0" font-size="8.3" text-anchor="middle" fill="#fdf52c" stroke="#fdf52c" stroke-width="0.2">26</text>
<ellipse cx="435.8" cy="776.5" rx="11.5" ry="8.5" fill="#000" opacity="0.14"/>
<ellipse cx="435.3" cy="775.5" rx="11.2" ry="8.2" fill="#f79646" stroke="#c8905a" stroke-width="0.9"/>
<text x="435.3" y="778.4" font-size="8.3" text-anchor="middle" fill="#fdf52c" stroke="#fdf52c" stroke-width="0.2">16</text>
<ellipse cx="434.8" cy="796.7" rx="11.5" ry="8.5" fill="#000" opacity="0.14"/>
<g clip-path="url(#c29)"><rect x="422.3" y="785.7" width="24" height="10.3" fill="#0000ff"/><rect x="422.3" y="796.0" width="24" height="10" fill="#008000"/></g>
<ellipse cx="434.3" cy="795.7" rx="11.2" ry="8.2" fill="none" stroke="#5f86a8" stroke-width="0.9"/>
<text x="434.3" y="798.6" font-size="8.3" text-anchor="middle" fill="#fbf530" stroke="#fbf530" stroke-width="0.2">29</text>
<ellipse cx="434.8" cy="817.5" rx="11.5" ry="8.5" fill="#000" opacity="0.14"/>
<g clip-path="url(#c25)"><rect x="422.3" y="806.5" width="24" height="10.3" fill="#0000ff"/><rect x="422.3" y="816.8" width="24" height="10" fill="#ff0000"/></g>
<ellipse cx="434.3" cy="816.5" rx="11.2" ry="8.2" fill="none" stroke="#5f86a8" stroke-width="0.9"/>
<text x="434.3" y="819.4" font-size="8.3" text-anchor="middle" fill="#fbf530" stroke="#fbf530" stroke-width="0.2">25</text>
<ellipse cx="434.9" cy="837.3" rx="11.5" ry="8.5" fill="#000" opacity="0.14"/>
<g clip-path="url(#c22)"><rect x="422.4" y="826.3" width="24" height="10.3" fill="#ffff00"/><rect x="422.4" y="836.5999999999999" width="24" height="10" fill="#ff0000"/></g>
<ellipse cx="434.4" cy="836.3" rx="11.2" ry="8.2" fill="none" stroke="#5f86a8" stroke-width="0.9"/>
<text x="434.4" y="839.2" font-size="8.3" text-anchor="middle" fill="#222" stroke="#222" stroke-width="0.2">22</text>
<ellipse cx="435.4" cy="857.9" rx="11.5" ry="8.5" fill="#000" opacity="0.14"/>
<g clip-path="url(#c24)"><rect x="422.9" y="846.9" width="24" height="10.3" fill="#ffff00"/><rect x="422.9" y="857.1999999999999" width="24" height="10" fill="#00ffff"/></g>
<ellipse cx="434.9" cy="856.9" rx="11.2" ry="8.2" fill="none" stroke="#5f86a8" stroke-width="0.9"/>
<text x="434.9" y="859.8" font-size="8.3" text-anchor="middle" fill="#1c1c9c" stroke="#1c1c9c" stroke-width="0.2">24</text>
<ellipse cx="435.1" cy="878.0" rx="11.5" ry="8.5" fill="#000" opacity="0.14"/>
<g clip-path="url(#c23)"><rect x="422.6" y="867.0" width="24" height="10.3" fill="#ffff00"/><rect x="422.6" y="877.3" width="24" height="10" fill="#00ffff"/></g>
<ellipse cx="434.6" cy="877.0" rx="11.2" ry="8.2" fill="none" stroke="#5f86a8" stroke-width="0.9"/>
<text x="434.6" y="879.9" font-size="8.3" text-anchor="middle" fill="#1c1c9c" stroke="#1c1c9c" stroke-width="0.2">23</text>
<ellipse cx="435.0" cy="897.8" rx="11.5" ry="8.5" fill="#000" opacity="0.14"/>
<g clip-path="url(#c14r)"><rect x="422.5" y="886.8" width="24" height="10.3" fill="#ffff00"/><rect x="422.5" y="897.0999999999999" width="24" height="10" fill="#00ffff"/></g>
<ellipse cx="434.5" cy="896.8" rx="11.2" ry="8.2" fill="none" stroke="#5f86a8" stroke-width="0.9"/>
<text x="434.5" y="899.7" font-size="8.3" text-anchor="middle" fill="#1c1c9c" stroke="#1c1c9c" stroke-width="0.2">14</text>
<rect x="118.2" y="709.6999999999999" width="47.6" height="12.6" fill="#000" opacity="0.13"/>
<rect x="117.7" y="708.8" width="47.6" height="12.6" fill="#0000ff" stroke="#0000ff" stroke-width="0.8"/>
<text x="140.2" y="717.6" font-size="7" text-anchor="middle" fill="#f2ee48" stroke="#f2ee48" stroke-width="0.2">Boundaries</text>
<rect x="118.7" y="751.0" width="43.6" height="12.3" fill="#000" opacity="0.13"/>
<rect x="118.2" y="750.1" width="43.6" height="12.3" fill="#d3dfbb" stroke="#a3ad80" stroke-width="0.8"/>
<text x="140.0" y="758.8" font-size="7" text-anchor="middle" fill="#3030c8" stroke="#3030c8" stroke-width="0.2">Bract</text>
<rect x="119.0" y="801.5" width="43.1" height="12.8" fill="#000" opacity="0.13"/>
<rect x="118.5" y="800.6" width="43.1" height="12.8" fill="#ffff00" stroke="#a8a860" stroke-width="0.8"/>
<text x="137.8" y="809.5" font-size="7" text-anchor="middle" fill="#1c1c9c" stroke="#1c1c9c" stroke-width="0.2">Meristem</text>
<rect x="272.1" y="689.6" width="44.1" height="12.3" fill="#000" opacity="0.13"/>
<rect x="271.6" y="688.7" width="44.1" height="12.3" fill="#b3a2c7" stroke="#a0a078" stroke-width="0.8"/>
<text x="293.6" y="697.4" font-size="7" text-anchor="middle" fill="#fbf530" stroke="#fbf530" stroke-width="0.2">Ad/ab bud</text>
<text x="455.6" y="693.3" font-size="7.75" xml:space="preserve"><tspan fill="#1a1af0">Boundary between  sepals</tspan></text>
<text x="455.6" y="714.0" font-size="7.75" xml:space="preserve"><tspan fill="#ee7f2d">Sepal adaxial</tspan></text>
<text x="455.6" y="736.4" font-size="7.75" xml:space="preserve"><tspan fill="#ee7f2d">Sepal abaxial</tspan></text>
<text x="455.6" y="767.6" font-size="7.75" xml:space="preserve"><tspan fill="#ee7f2d">Sepal tip</tspan></text>
<text x="455.6" y="797.0" font-size="7.75" xml:space="preserve"><tspan fill="#0a8a0a">Petal precursor/</tspan><tspan fill="#1a1af0">sepal boundary</tspan></text>
<text x="455.6" y="818.4" font-size="7.75" xml:space="preserve"><tspan fill="#f01010">Stamen precursor/</tspan><tspan fill="#1a1af0">sepal boundary</tspan></text>
<text x="455.6" y="839.5" font-size="7.75" xml:space="preserve"><tspan fill="#f01010">Stamen precursor</tspan></text>
<text x="455.6" y="858.7" font-size="7.75" xml:space="preserve"><tspan fill="#24249c">Carpel boundary</tspan></text>
<text x="455.6" y="880.6" font-size="7.75" xml:space="preserve"><tspan fill="#24249c">Carpel precursor</tspan></text>
<text x="455.6" y="901.3" font-size="7.75" xml:space="preserve"><tspan fill="#24249c">Carpel precursor</tspan></text>
<path d="M186.2 905.6L192.79999999999998 912.5H189.7V917.9H182.7V912.5H179.6Z" fill="#fff" stroke="#4a7ebb" stroke-width="0.9" stroke-linejoin="miter"/>
<path d="M235.3 905.6L241.9 912.5H238.8V917.9H231.8V912.5H228.70000000000002Z" fill="#fff" stroke="#4a7ebb" stroke-width="0.9" stroke-linejoin="miter"/>
<path d="M293.6 905.5L300.20000000000005 912.4H297.1V917.8H290.1V912.4H287.0Z" fill="#fff" stroke="#4a7ebb" stroke-width="0.9" stroke-linejoin="miter"/>
<path d="M361.6 905.1L368.20000000000005 912.0H365.1V917.4H358.1V912.0H355.0Z" fill="#fff" stroke="#4a7ebb" stroke-width="0.9" stroke-linejoin="miter"/>
<path d="M434.4 906.2L441.0 913.1H437.9V918.5H430.9V913.1H427.79999999999995Z" fill="#fff" stroke="#4a7ebb" stroke-width="0.9" stroke-linejoin="miter"/>
<ellipse cx="186.2" cy="939.3" rx="13.6" ry="11.8" fill="#fbe0cd" stroke="#7f9bb8" stroke-width="0.9"/>
<ellipse cx="235.3" cy="939.7" rx="13.5" ry="11.8" fill="#fbe0cd" stroke="#7f9bb8" stroke-width="0.9"/>
<ellipse cx="293.6" cy="939.7" rx="13.4" ry="11.5" fill="#fdf0e6" stroke="#7f9bb8" stroke-width="0.85"/>
<path d="M277.20000000000005 939.7H310.0M293.6 921.2V958.2" stroke="#4a7ab5" stroke-width="1.5"/>
<ellipse cx="293.6" cy="939.7" rx="9.6" ry="7.9" fill="#fbe0cd" stroke="#7f9bb8" stroke-width="0.85"/>
<ellipse cx="362.0" cy="939.1" rx="13.0" ry="11.5" fill="#fdf0e6" stroke="#7f9bb8" stroke-width="0.85"/>
<path d="M345.4 939.1H378.6M362.0 921.3000000000001V956.9" stroke="#4a7ab5" stroke-width="1.5"/>
<ellipse cx="362.0" cy="939.1" rx="9.8" ry="8.6" fill="#fdf0e6" stroke="#7f9bb8" stroke-width="0.85"/>
<ellipse cx="362.0" cy="939.1" rx="7.2" ry="6.0" fill="#fbe0cd" stroke="#7f9bb8" stroke-width="0.85"/>
<ellipse cx="435.5" cy="939.6" rx="12.9" ry="11.5" fill="#fdf0e6" stroke="#7f9bb8" stroke-width="0.85"/>
<ellipse cx="435.5" cy="939.6" rx="10.3" ry="8.9" fill="#fdf0e6" stroke="#7f9bb8" stroke-width="0.85"/>
<path d="M418.9 939.6H452.1M435.5 921.8000000000001V957.4" stroke="#4a7ab5" stroke-width="1.5"/>
<ellipse cx="435.5" cy="939.6" rx="7.7" ry="6.0" fill="#fdf0e6" stroke="#7f9bb8" stroke-width="0.85"/>
<ellipse cx="435.5" cy="939.6" rx="4.4" ry="3.3" fill="#fbe0cd" stroke="#7f9bb8" stroke-width="0.85"/>
<text x="110.6" y="940.8" font-size="6.45" text-anchor="start" fill="#111" stroke="#111" stroke-width="0.15">Developmental</text>
<text x="110.6" y="947.7" font-size="6.45" text-anchor="start" fill="#111" stroke="#111" stroke-width="0.15">stages</text>
<text x="209.7" y="968.2" font-size="6.4" text-anchor="middle" fill="#2626b4" stroke="#2626b4" stroke-width="0.15">Initiation floral meristem</text>
<text x="292.1" y="966.0" font-size="6.4" text-anchor="middle" fill="#2626b4" stroke="#2626b4" stroke-width="0.15">Mediolateral axis</text>
<text x="292.1" y="973.6" font-size="6.4" text-anchor="middle" fill="#2626b4" stroke="#2626b4" stroke-width="0.15">Ad/abaxial axis</text>
<text x="292.1" y="981.2" font-size="6.4" text-anchor="middle" fill="#2626b4" stroke="#2626b4" stroke-width="0.15">Lateral sepals</text>
<text x="365" y="967.3" font-size="6.4" text-anchor="middle" fill="#2626b4" stroke="#2626b4" stroke-width="0.15">Ab/ad sepals</text>
<text x="365" y="974.4" font-size="6.4" text-anchor="middle" fill="#2626b4" stroke="#2626b4" stroke-width="0.15">Initiation inner whorls</text>
<text x="442" y="967.3" font-size="6.4" text-anchor="middle" fill="#2626b4" stroke="#2626b4" stroke-width="0.15">Petals specified</text>
<text x="441.5" y="974.4" font-size="6.4" text-anchor="middle" fill="#2626b4" stroke="#2626b4" stroke-width="0.15">2 inner whorls specified</text>
<text x="187.6" y="997.2" font-size="6.4" text-anchor="middle" fill="#2626b4" stroke="#2626b4" stroke-width="0.15">Initium</text>
<text x="232.3" y="997.2" font-size="6.4" text-anchor="middle" fill="#2626b4" stroke="#2626b4" stroke-width="0.15">Stage 1</text>
<text x="292.2" y="997.2" font-size="6.4" text-anchor="middle" fill="#2626b4" stroke="#2626b4" stroke-width="0.15">Stage 2</text>
<text x="362.9" y="997.2" font-size="6.4" text-anchor="middle" fill="#2626b4" stroke="#2626b4" stroke-width="0.15">Stage 3</text>
<text x="434.8" y="997.2" font-size="6.4" text-anchor="middle" fill="#2626b4" stroke="#2626b4" stroke-width="0.15">Stage 4</text>
<rect x="100" y="932" width="12.6" height="18" fill="#fff"/>
</svg>
</body></html>
